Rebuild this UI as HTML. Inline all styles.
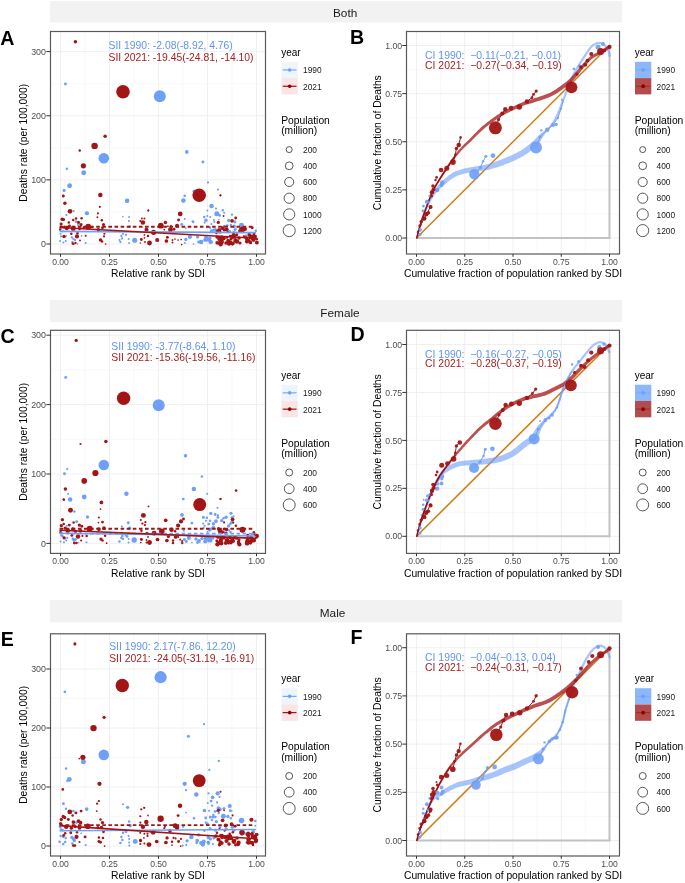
<!DOCTYPE html><html><head><meta charset="utf-8"><style>html,body{margin:0;padding:0;background:#fff;width:685px;height:883px;overflow:hidden}</style></head><body><svg width="685" height="883" viewBox="0 0 685 883" style="position:absolute;left:0;top:0;will-change:transform;font-family:'Liberation Sans', sans-serif">
<rect x="0" y="0" width="685" height="883" fill="#fff" />
<rect x="49.9" y="1.2" width="572.3" height="21.3" fill="#f2f2f2" />
<text x="333" y="16.6" font-size="11.8" fill="#1a1a1a" text-anchor="start" font-weight="normal" >Both</text>
<text x="0.2" y="45" font-size="19.6" fill="#000" text-anchor="start" font-weight="bold" >A</text>
<text x="350" y="44.4" font-size="19.6" fill="#000" text-anchor="start" font-weight="bold" >B</text>
<rect x="50.5" y="31.5" width="215" height="222.5" fill="#fff" />
<line x1="85" y1="31.5" x2="85" y2="254" stroke="#f4f4f4" stroke-width="0.6" />
<line x1="134" y1="31.5" x2="134" y2="254" stroke="#f4f4f4" stroke-width="0.6" />
<line x1="183" y1="31.5" x2="183" y2="254" stroke="#f4f4f4" stroke-width="0.6" />
<line x1="232" y1="31.5" x2="232" y2="254" stroke="#f4f4f4" stroke-width="0.6" />
<line x1="50.5" y1="211.94" x2="265.5" y2="211.94" stroke="#f4f4f4" stroke-width="0.6" />
<line x1="50.5" y1="147.81" x2="265.5" y2="147.81" stroke="#f4f4f4" stroke-width="0.6" />
<line x1="50.5" y1="83.68" x2="265.5" y2="83.68" stroke="#f4f4f4" stroke-width="0.6" />
<line x1="60.5" y1="31.5" x2="60.5" y2="254" stroke="#ececec" stroke-width="0.8" />
<line x1="109.5" y1="31.5" x2="109.5" y2="254" stroke="#ececec" stroke-width="0.8" />
<line x1="158.5" y1="31.5" x2="158.5" y2="254" stroke="#ececec" stroke-width="0.8" />
<line x1="207.5" y1="31.5" x2="207.5" y2="254" stroke="#ececec" stroke-width="0.8" />
<line x1="256.5" y1="31.5" x2="256.5" y2="254" stroke="#ececec" stroke-width="0.8" />
<line x1="50.5" y1="244" x2="265.5" y2="244" stroke="#ececec" stroke-width="0.8" />
<line x1="50.5" y1="179.87" x2="265.5" y2="179.87" stroke="#ececec" stroke-width="0.8" />
<line x1="50.5" y1="115.74" x2="265.5" y2="115.74" stroke="#ececec" stroke-width="0.8" />
<line x1="50.5" y1="51.61" x2="265.5" y2="51.61" stroke="#ececec" stroke-width="0.8" />
<circle cx="65.4" cy="84" r="1.45" fill="#6e9ff9"/>
<circle cx="159.8" cy="96.2" r="6" fill="#6e9ff9"/>
<circle cx="103.8" cy="158.3" r="5.3" fill="#6e9ff9"/>
<circle cx="83.7" cy="172.7" r="2.45" fill="#6e9ff9"/>
<circle cx="66.9" cy="168.7" r="1.25" fill="#6e9ff9"/>
<circle cx="69.6" cy="185.7" r="2.45" fill="#6e9ff9"/>
<circle cx="64.1" cy="190.4" r="1.55" fill="#6e9ff9"/>
<circle cx="127.1" cy="200.8" r="2.25" fill="#6e9ff9"/>
<circle cx="86.9" cy="213.2" r="2.05" fill="#6e9ff9"/>
<circle cx="186.8" cy="151.9" r="1.85" fill="#6e9ff9"/>
<circle cx="202.9" cy="162" r="1.45" fill="#6e9ff9"/>
<circle cx="208" cy="182.4" r="1.05" fill="#6e9ff9"/>
<circle cx="218" cy="189.6" r="1.05" fill="#6e9ff9"/>
<circle cx="194.3" cy="191.2" r="1.75" fill="#6e9ff9"/>
<circle cx="184.7" cy="195.7" r="1.25" fill="#6e9ff9"/>
<circle cx="183.4" cy="200.4" r="2.25" fill="#6e9ff9"/>
<circle cx="211.5" cy="206.1" r="2.25" fill="#6e9ff9"/>
<circle cx="216.8" cy="213.7" r="2.5" fill="#6e9ff9"/>
<circle cx="73.7" cy="211" r="1.05" fill="#6e9ff9"/>
<circle cx="66.4" cy="214.9" r="1.05" fill="#6e9ff9"/>
<circle cx="87" cy="213.2" r="1.75" fill="#6e9ff9"/>
<circle cx="76" cy="221.6" r="1.45" fill="#6e9ff9"/>
<circle cx="78" cy="225.1" r="1.05" fill="#6e9ff9"/>
<circle cx="60.6" cy="228.7" r="1.25" fill="#6e9ff9"/>
<circle cx="62.7" cy="231.3" r="1.15" fill="#6e9ff9"/>
<circle cx="60.6" cy="233.8" r="1.05" fill="#6e9ff9"/>
<circle cx="61.1" cy="236.4" r="1.05" fill="#6e9ff9"/>
<circle cx="60.1" cy="241" r="1.05" fill="#6e9ff9"/>
<circle cx="63.4" cy="242.5" r="1.05" fill="#6e9ff9"/>
<circle cx="65.7" cy="241" r="1.05" fill="#6e9ff9"/>
<circle cx="66.2" cy="235.9" r="0.85" fill="#6e9ff9"/>
<circle cx="71.9" cy="237.4" r="1.15" fill="#6e9ff9"/>
<circle cx="73.4" cy="238.9" r="1.15" fill="#6e9ff9"/>
<circle cx="75" cy="240" r="1.15" fill="#6e9ff9"/>
<circle cx="72.4" cy="242" r="1.15" fill="#6e9ff9"/>
<circle cx="81.6" cy="235.9" r="0.85" fill="#6e9ff9"/>
<circle cx="85.7" cy="243" r="1.05" fill="#6e9ff9"/>
<circle cx="77.5" cy="243.8" r="0.85" fill="#6e9ff9"/>
<circle cx="122.8" cy="216.5" r="0.85" fill="#6e9ff9"/>
<circle cx="121.4" cy="235.9" r="1.15" fill="#6e9ff9"/>
<circle cx="120.4" cy="242" r="1.15" fill="#6e9ff9"/>
<circle cx="122" cy="238.5" r="1.15" fill="#6e9ff9"/>
<circle cx="123" cy="234" r="1.05" fill="#6e9ff9"/>
<circle cx="119.5" cy="240" r="1.05" fill="#6e9ff9"/>
<circle cx="127" cy="200.9" r="1.75" fill="#6e9ff9"/>
<circle cx="129.1" cy="217" r="0.95" fill="#6e9ff9"/>
<circle cx="128.9" cy="221.1" r="1.05" fill="#6e9ff9"/>
<circle cx="129.6" cy="226.7" r="1.45" fill="#6e9ff9"/>
<circle cx="126" cy="234.9" r="1.05" fill="#6e9ff9"/>
<circle cx="128.6" cy="239" r="1.05" fill="#6e9ff9"/>
<circle cx="129.1" cy="243" r="0.95" fill="#6e9ff9"/>
<circle cx="134.7" cy="240.3" r="2.55" fill="#6e9ff9"/>
<circle cx="183.2" cy="200.6" r="1.75" fill="#6e9ff9"/>
<circle cx="184.6" cy="195.8" r="0.85" fill="#6e9ff9"/>
<circle cx="184.8" cy="219" r="1.05" fill="#6e9ff9"/>
<circle cx="193" cy="221.8" r="1.45" fill="#6e9ff9"/>
<circle cx="181.7" cy="224.4" r="1.45" fill="#6e9ff9"/>
<circle cx="185.8" cy="228.2" r="0.85" fill="#6e9ff9"/>
<circle cx="189.9" cy="236.9" r="2.05" fill="#6e9ff9"/>
<circle cx="185.8" cy="239.5" r="1.65" fill="#6e9ff9"/>
<circle cx="184.8" cy="243" r="1.05" fill="#6e9ff9"/>
<circle cx="193.5" cy="244" r="0.85" fill="#6e9ff9"/>
<circle cx="211.6" cy="206.2" r="1.65" fill="#6e9ff9"/>
<circle cx="216" cy="208.6" r="1.05" fill="#6e9ff9"/>
<circle cx="207.3" cy="210.5" r="1.05" fill="#6e9ff9"/>
<circle cx="217" cy="213.9" r="1.95" fill="#6e9ff9"/>
<circle cx="204.2" cy="217" r="1.25" fill="#6e9ff9"/>
<circle cx="207.3" cy="216" r="1.05" fill="#6e9ff9"/>
<circle cx="210.3" cy="217" r="1.05" fill="#6e9ff9"/>
<circle cx="213.9" cy="220" r="1.05" fill="#6e9ff9"/>
<circle cx="214.4" cy="222" r="1.05" fill="#6e9ff9"/>
<circle cx="204.7" cy="222.6" r="1.05" fill="#6e9ff9"/>
<circle cx="211.4" cy="224.1" r="1.05" fill="#6e9ff9"/>
<circle cx="219" cy="219.5" r="0.85" fill="#6e9ff9"/>
<circle cx="228.7" cy="220.5" r="1.65" fill="#6e9ff9"/>
<circle cx="241.5" cy="225.1" r="2.45" fill="#6e9ff9"/>
<circle cx="230.8" cy="225.1" r="1.25" fill="#6e9ff9"/>
<circle cx="227.2" cy="225.7" r="1.45" fill="#6e9ff9"/>
<circle cx="215.4" cy="229.7" r="1.65" fill="#6e9ff9"/>
<circle cx="210.3" cy="227.7" r="1.05" fill="#6e9ff9"/>
<circle cx="197.6" cy="236.9" r="1.65" fill="#6e9ff9"/>
<circle cx="201.1" cy="242" r="2.25" fill="#6e9ff9"/>
<circle cx="204.7" cy="240" r="1.65" fill="#6e9ff9"/>
<circle cx="207.3" cy="238.9" r="1.65" fill="#6e9ff9"/>
<circle cx="209.3" cy="240" r="1.65" fill="#6e9ff9"/>
<circle cx="198.6" cy="242" r="1.45" fill="#6e9ff9"/>
<circle cx="211.9" cy="242.5" r="1.05" fill="#6e9ff9"/>
<circle cx="229.7" cy="231.3" r="1.25" fill="#6e9ff9"/>
<circle cx="233.8" cy="232.3" r="1.25" fill="#6e9ff9"/>
<circle cx="246.1" cy="235.9" r="1.45" fill="#6e9ff9"/>
<circle cx="255.8" cy="230.8" r="1.25" fill="#6e9ff9"/>
<circle cx="206.42" cy="237.62" r="1.73" fill="#6e9ff9"/>
<circle cx="205.93" cy="237.4" r="1.73" fill="#6e9ff9"/>
<circle cx="210.51" cy="241.8" r="1.99" fill="#6e9ff9"/>
<circle cx="206.33" cy="240.22" r="1.64" fill="#6e9ff9"/>
<circle cx="206.04" cy="237.64" r="1.6" fill="#6e9ff9"/>
<circle cx="210.56" cy="241.97" r="2.01" fill="#6e9ff9"/>
<circle cx="209.8" cy="238.16" r="1.67" fill="#6e9ff9"/>
<circle cx="224.31" cy="226.32" r="1.61" fill="#6e9ff9"/>
<circle cx="234.22" cy="226.28" r="1.7" fill="#6e9ff9"/>
<circle cx="205.9" cy="220.24" r="1.71" fill="#6e9ff9"/>
<circle cx="225.12" cy="229.82" r="1.13" fill="#6e9ff9"/>
<circle cx="219.54" cy="215.42" r="1.43" fill="#6e9ff9"/>
<circle cx="222.79" cy="210.29" r="1.2" fill="#6e9ff9"/>
<circle cx="213.66" cy="230.16" r="1.59" fill="#6e9ff9"/>
<circle cx="209.95" cy="227.54" r="1.15" fill="#6e9ff9"/>
<circle cx="224.14" cy="212.79" r="1.05" fill="#6e9ff9"/>
<circle cx="232.01" cy="214.61" r="1.2" fill="#6e9ff9"/>
<circle cx="235.46" cy="229.19" r="1.25" fill="#6e9ff9"/>
<circle cx="234.81" cy="221.86" r="1.52" fill="#6e9ff9"/>
<circle cx="211.35" cy="230.7" r="1.53" fill="#6e9ff9"/>
<circle cx="234.96" cy="229.66" r="1.26" fill="#6e9ff9"/>
<circle cx="75.4" cy="41.7" r="1.75" fill="#a31515"/>
<circle cx="123" cy="91.8" r="6.8" fill="#a31515"/>
<circle cx="105.1" cy="136.3" r="1.75" fill="#a31515"/>
<circle cx="94.6" cy="145.9" r="3.2" fill="#a31515"/>
<circle cx="79.7" cy="150.6" r="1.25" fill="#a31515"/>
<circle cx="83.4" cy="165.8" r="2.6" fill="#a31515"/>
<circle cx="63.3" cy="196" r="1.45" fill="#a31515"/>
<circle cx="100.3" cy="194.9" r="2.25" fill="#a31515"/>
<circle cx="99.8" cy="206.8" r="0.95" fill="#a31515"/>
<circle cx="148.3" cy="210.5" r="0.95" fill="#a31515"/>
<circle cx="199.2" cy="195.2" r="6.7" fill="#a31515"/>
<circle cx="220.4" cy="195.2" r="1.05" fill="#a31515"/>
<circle cx="180.2" cy="213.9" r="2.35" fill="#a31515"/>
<circle cx="63.4" cy="196.2" r="1.05" fill="#a31515"/>
<circle cx="64.9" cy="203.2" r="1.75" fill="#a31515"/>
<circle cx="70" cy="211.3" r="2.35" fill="#a31515"/>
<circle cx="62.2" cy="219.2" r="1.75" fill="#a31515"/>
<circle cx="63.5" cy="219.5" r="1.55" fill="#a31515"/>
<circle cx="73.2" cy="220" r="1.25" fill="#a31515"/>
<circle cx="76" cy="218.5" r="1.25" fill="#a31515"/>
<circle cx="81.6" cy="218.3" r="1.25" fill="#a31515"/>
<circle cx="68.8" cy="222.6" r="1.25" fill="#a31515"/>
<circle cx="78.5" cy="222.4" r="1.55" fill="#a31515"/>
<circle cx="81" cy="224.6" r="1.55" fill="#a31515"/>
<circle cx="61.1" cy="224.1" r="1.55" fill="#a31515"/>
<circle cx="66.8" cy="228.2" r="2.05" fill="#a31515"/>
<circle cx="73.2" cy="228.2" r="2.55" fill="#a31515"/>
<circle cx="88.2" cy="226.7" r="2.9" fill="#a31515"/>
<circle cx="79.5" cy="228.7" r="1.45" fill="#a31515"/>
<circle cx="99.7" cy="206.8" r="0.85" fill="#a31515"/>
<circle cx="97.9" cy="213.4" r="1.05" fill="#a31515"/>
<circle cx="97.4" cy="217.3" r="0.95" fill="#a31515"/>
<circle cx="101.8" cy="220.3" r="1.25" fill="#a31515"/>
<circle cx="103.5" cy="224.6" r="1.55" fill="#a31515"/>
<circle cx="102.5" cy="227.7" r="1.45" fill="#a31515"/>
<circle cx="98.4" cy="229.7" r="1.75" fill="#a31515"/>
<circle cx="64" cy="236.4" r="1.75" fill="#a31515"/>
<circle cx="71.3" cy="233.8" r="1.25" fill="#a31515"/>
<circle cx="77" cy="236.4" r="2.05" fill="#a31515"/>
<circle cx="77.5" cy="233.3" r="1.25" fill="#a31515"/>
<circle cx="85.7" cy="235.7" r="1.05" fill="#a31515"/>
<circle cx="80" cy="240.5" r="0.95" fill="#a31515"/>
<circle cx="73.4" cy="243.8" r="1.25" fill="#a31515"/>
<circle cx="100.5" cy="240" r="1.75" fill="#a31515"/>
<circle cx="102" cy="241.5" r="1.25" fill="#a31515"/>
<circle cx="104.4" cy="233.8" r="1.05" fill="#a31515"/>
<circle cx="104" cy="236.4" r="1.05" fill="#a31515"/>
<circle cx="105.6" cy="244" r="0.85" fill="#a31515"/>
<circle cx="60.1" cy="229.7" r="1.15" fill="#a31515"/>
<circle cx="64.5" cy="227" r="1.55" fill="#a31515"/>
<circle cx="69.5" cy="226" r="1.45" fill="#a31515"/>
<circle cx="84" cy="227.5" r="1.45" fill="#a31515"/>
<circle cx="92" cy="227" r="1.25" fill="#a31515"/>
<circle cx="75.5" cy="243" r="1.15" fill="#a31515"/>
<circle cx="72.5" cy="243.5" r="1.05" fill="#a31515"/>
<circle cx="148.3" cy="210.5" r="0.95" fill="#a31515"/>
<circle cx="178.6" cy="220" r="1.45" fill="#a31515"/>
<circle cx="165.4" cy="222.6" r="1.75" fill="#a31515"/>
<circle cx="160.8" cy="225.7" r="2.9" fill="#a31515"/>
<circle cx="142.9" cy="222.6" r="2.25" fill="#a31515"/>
<circle cx="141.9" cy="218.5" r="0.95" fill="#a31515"/>
<circle cx="144.4" cy="218.5" r="0.95" fill="#a31515"/>
<circle cx="140.3" cy="221.1" r="1.05" fill="#a31515"/>
<circle cx="146.5" cy="229.7" r="2.05" fill="#a31515"/>
<circle cx="153.6" cy="232.3" r="2.6" fill="#a31515"/>
<circle cx="177.1" cy="225.7" r="2.05" fill="#a31515"/>
<circle cx="170.5" cy="229.7" r="2.45" fill="#a31515"/>
<circle cx="174" cy="229.2" r="1.45" fill="#a31515"/>
<circle cx="141.3" cy="239.5" r="1.45" fill="#a31515"/>
<circle cx="149.5" cy="243" r="2.45" fill="#a31515"/>
<circle cx="157.2" cy="240" r="2.05" fill="#a31515"/>
<circle cx="166.4" cy="241" r="1.85" fill="#a31515"/>
<circle cx="167.4" cy="237.4" r="1.45" fill="#a31515"/>
<circle cx="148" cy="235.9" r="1.25" fill="#a31515"/>
<circle cx="144.4" cy="234.9" r="0.85" fill="#a31515"/>
<circle cx="144.4" cy="237.9" r="0.85" fill="#a31515"/>
<circle cx="145" cy="242" r="0.95" fill="#a31515"/>
<circle cx="140.3" cy="243" r="0.75" fill="#a31515"/>
<circle cx="172.5" cy="240" r="0.95" fill="#a31515"/>
<circle cx="172.5" cy="242.5" r="0.95" fill="#a31515"/>
<circle cx="175" cy="239" r="0.85" fill="#a31515"/>
<circle cx="178.1" cy="240" r="0.85" fill="#a31515"/>
<circle cx="181.2" cy="239.5" r="0.85" fill="#a31515"/>
<circle cx="181.7" cy="244.6" r="0.85" fill="#a31515"/>
<circle cx="164.3" cy="229.7" r="0.85" fill="#a31515"/>
<circle cx="167.9" cy="226.2" r="0.85" fill="#a31515"/>
<circle cx="171" cy="225.7" r="0.85" fill="#a31515"/>
<circle cx="220.5" cy="195.5" r="0.95" fill="#a31515"/>
<circle cx="223.6" cy="216" r="0.95" fill="#a31515"/>
<circle cx="235.7" cy="218" r="1.45" fill="#a31515"/>
<circle cx="232" cy="220.8" r="1.85" fill="#a31515"/>
<circle cx="218.3" cy="222.4" r="1.65" fill="#a31515"/>
<circle cx="222.6" cy="228.2" r="1.85" fill="#a31515"/>
<circle cx="225.7" cy="229.7" r="1.65" fill="#a31515"/>
<circle cx="219.5" cy="230.8" r="1.45" fill="#a31515"/>
<circle cx="242" cy="229.7" r="2.9" fill="#a31515"/>
<circle cx="252.2" cy="227.7" r="1.45" fill="#a31515"/>
<circle cx="228.7" cy="241.5" r="2.25" fill="#a31515"/>
<circle cx="236.9" cy="241.5" r="2.25" fill="#a31515"/>
<circle cx="221.6" cy="241.5" r="2.05" fill="#a31515"/>
<circle cx="251.2" cy="236.9" r="2.25" fill="#a31515"/>
<circle cx="248.1" cy="240.5" r="2.05" fill="#a31515"/>
<circle cx="255.3" cy="236.4" r="1.65" fill="#a31515"/>
<circle cx="250.7" cy="243" r="1.25" fill="#a31515"/>
<circle cx="217" cy="237" r="1.75" fill="#a31515"/>
<circle cx="219" cy="239.5" r="1.55" fill="#a31515"/>
<circle cx="224" cy="238.5" r="1.75" fill="#a31515"/>
<circle cx="226" cy="243" r="1.75" fill="#a31515"/>
<circle cx="231" cy="239" r="1.55" fill="#a31515"/>
<circle cx="233" cy="243.5" r="1.65" fill="#a31515"/>
<circle cx="239" cy="238" r="1.75" fill="#a31515"/>
<circle cx="240" cy="243" r="1.55" fill="#a31515"/>
<circle cx="244" cy="236.5" r="1.25" fill="#a31515"/>
<circle cx="246.5" cy="238" r="1.75" fill="#a31515"/>
<circle cx="253.5" cy="240" r="1.85" fill="#a31515"/>
<circle cx="256.5" cy="239" r="1.55" fill="#a31515"/>
<circle cx="254" cy="234" r="1.45" fill="#a31515"/>
<circle cx="249" cy="234.5" r="1.45" fill="#a31515"/>
<circle cx="245" cy="229" r="2.05" fill="#a31515"/>
<circle cx="239.5" cy="231" r="1.45" fill="#a31515"/>
<circle cx="227.5" cy="232" r="1.25" fill="#a31515"/>
<circle cx="216.5" cy="233" r="1.25" fill="#a31515"/>
<circle cx="230" cy="236" r="1.25" fill="#a31515"/>
<circle cx="235" cy="236" r="1.25" fill="#a31515"/>
<circle cx="219.52" cy="242.97" r="2.06" fill="#a31515"/>
<circle cx="222.24" cy="239.45" r="1.81" fill="#a31515"/>
<circle cx="231.16" cy="242.39" r="1.53" fill="#a31515"/>
<circle cx="217.14" cy="242.86" r="1.8" fill="#a31515"/>
<circle cx="233.65" cy="234.52" r="1.81" fill="#a31515"/>
<circle cx="232.73" cy="236.79" r="2.21" fill="#a31515"/>
<circle cx="236.78" cy="234.81" r="1.47" fill="#a31515"/>
<circle cx="228.68" cy="243.89" r="1.75" fill="#a31515"/>
<circle cx="221.37" cy="238.72" r="1.47" fill="#a31515"/>
<circle cx="221.49" cy="238.88" r="1.85" fill="#a31515"/>
<circle cx="221.74" cy="236.81" r="1.63" fill="#a31515"/>
<circle cx="226.84" cy="237.4" r="1.47" fill="#a31515"/>
<circle cx="235.35" cy="240.06" r="1.96" fill="#a31515"/>
<circle cx="220.68" cy="244.43" r="2.14" fill="#a31515"/>
<circle cx="219.22" cy="237.83" r="2.03" fill="#a31515"/>
<circle cx="232.5" cy="243.86" r="1.79" fill="#a31515"/>
<circle cx="235.18" cy="241.2" r="1.69" fill="#a31515"/>
<circle cx="229.72" cy="243.32" r="2.13" fill="#a31515"/>
<circle cx="227.87" cy="240.39" r="1.48" fill="#a31515"/>
<circle cx="221.96" cy="242.47" r="1.78" fill="#a31515"/>
<circle cx="256.52" cy="242.53" r="1.5" fill="#a31515"/>
<circle cx="246.93" cy="241.52" r="2.04" fill="#a31515"/>
<circle cx="253.37" cy="236.77" r="1.93" fill="#a31515"/>
<circle cx="252.67" cy="239.23" r="1.58" fill="#a31515"/>
<circle cx="250.74" cy="237.54" r="2.03" fill="#a31515"/>
<circle cx="256.94" cy="242.54" r="1.89" fill="#a31515"/>
<circle cx="250.89" cy="236.41" r="1.48" fill="#a31515"/>
<circle cx="246.3" cy="238.18" r="1.7" fill="#a31515"/>
<circle cx="250.18" cy="242.03" r="1.87" fill="#a31515"/>
<circle cx="252.17" cy="236.13" r="1.47" fill="#a31515"/>
<circle cx="249.58" cy="235.23" r="1.86" fill="#a31515"/>
<circle cx="219.86" cy="229.72" r="1.57" fill="#a31515"/>
<circle cx="224.25" cy="230.13" r="1.39" fill="#a31515"/>
<circle cx="217.16" cy="231.19" r="1.51" fill="#a31515"/>
<circle cx="219.81" cy="231.98" r="1.63" fill="#a31515"/>
<circle cx="227.04" cy="229.38" r="1.73" fill="#a31515"/>
<circle cx="218.81" cy="230.17" r="1.87" fill="#a31515"/>
<line x1="59.6" y1="226.7" x2="254.5" y2="226.7" stroke="#a31515" stroke-width="1.9" stroke-dasharray="3.6 2.5"/>
<line x1="59.6" y1="231.4" x2="256" y2="232.6" stroke="#6e9ff9" stroke-width="1.6"/>
<line x1="59.6" y1="227.5" x2="256.3" y2="238.2" stroke="#a31515" stroke-width="1.6"/>
<rect x="50.5" y="31.5" width="215.0" height="222.5" fill="none" stroke="#595959" stroke-width="1.2"/>
<line x1="46.3" y1="244" x2="50.5" y2="244" stroke="#333" stroke-width="1.0" />
<text x="46" y="247.1" font-size="8.9" fill="#4d4d4d" text-anchor="end" font-weight="normal" >0</text>
<line x1="46.3" y1="179.87" x2="50.5" y2="179.87" stroke="#333" stroke-width="1.0" />
<text x="46" y="182.97" font-size="8.9" fill="#4d4d4d" text-anchor="end" font-weight="normal" >100</text>
<line x1="46.3" y1="115.74" x2="50.5" y2="115.74" stroke="#333" stroke-width="1.0" />
<text x="46" y="118.84" font-size="8.9" fill="#4d4d4d" text-anchor="end" font-weight="normal" >200</text>
<line x1="46.3" y1="51.61" x2="50.5" y2="51.61" stroke="#333" stroke-width="1.0" />
<text x="46" y="54.71" font-size="8.9" fill="#4d4d4d" text-anchor="end" font-weight="normal" >300</text>
<line x1="60.5" y1="254" x2="60.5" y2="256.8" stroke="#333" stroke-width="1.0" />
<text x="60.5" y="265" font-size="8.6" fill="#4d4d4d" text-anchor="middle" font-weight="normal" >0.00</text>
<line x1="109.5" y1="254" x2="109.5" y2="256.8" stroke="#333" stroke-width="1.0" />
<text x="109.5" y="265" font-size="8.6" fill="#4d4d4d" text-anchor="middle" font-weight="normal" >0.25</text>
<line x1="158.5" y1="254" x2="158.5" y2="256.8" stroke="#333" stroke-width="1.0" />
<text x="158.5" y="265" font-size="8.6" fill="#4d4d4d" text-anchor="middle" font-weight="normal" >0.50</text>
<line x1="207.5" y1="254" x2="207.5" y2="256.8" stroke="#333" stroke-width="1.0" />
<text x="207.5" y="265" font-size="8.6" fill="#4d4d4d" text-anchor="middle" font-weight="normal" >0.75</text>
<line x1="256.5" y1="254" x2="256.5" y2="256.8" stroke="#333" stroke-width="1.0" />
<text x="256.5" y="265" font-size="8.6" fill="#4d4d4d" text-anchor="middle" font-weight="normal" >1.00</text>
<text x="158" y="277.2" font-size="10.3" fill="#000" text-anchor="middle" font-weight="normal" >Relative rank by SDI</text>
<text x="27.3" y="142.75" font-size="10.3" fill="#000" text-anchor="middle" transform="rotate(-90 27.3 142.75)">Deaths rate (per 100,000)</text>
<text x="108.6" y="49" font-size="10.35" fill="#5f93f2" text-anchor="start" font-weight="normal" >SII 1990: -2.08(-8.92, 4.76)</text>
<text x="108.6" y="60.5" font-size="10.35" fill="#a51e1e" text-anchor="start" font-weight="normal" >SII 2021: -19.45(-24.81, -14.10)</text>
<rect x="406.5" y="31.5" width="213" height="222.5" fill="#fff" />
<line x1="440.62" y1="31.5" x2="440.62" y2="254" stroke="#f4f4f4" stroke-width="0.6" />
<line x1="406.5" y1="213.94" x2="619.5" y2="213.94" stroke="#f4f4f4" stroke-width="0.6" />
<line x1="488.88" y1="31.5" x2="488.88" y2="254" stroke="#f4f4f4" stroke-width="0.6" />
<line x1="406.5" y1="165.81" x2="619.5" y2="165.81" stroke="#f4f4f4" stroke-width="0.6" />
<line x1="537.12" y1="31.5" x2="537.12" y2="254" stroke="#f4f4f4" stroke-width="0.6" />
<line x1="406.5" y1="117.69" x2="619.5" y2="117.69" stroke="#f4f4f4" stroke-width="0.6" />
<line x1="585.38" y1="31.5" x2="585.38" y2="254" stroke="#f4f4f4" stroke-width="0.6" />
<line x1="406.5" y1="69.56" x2="619.5" y2="69.56" stroke="#f4f4f4" stroke-width="0.6" />
<line x1="416.5" y1="31.5" x2="416.5" y2="254" stroke="#ececec" stroke-width="0.8" />
<line x1="406.5" y1="238" x2="619.5" y2="238" stroke="#ececec" stroke-width="0.8" />
<line x1="464.75" y1="31.5" x2="464.75" y2="254" stroke="#ececec" stroke-width="0.8" />
<line x1="406.5" y1="189.88" x2="619.5" y2="189.88" stroke="#ececec" stroke-width="0.8" />
<line x1="513" y1="31.5" x2="513" y2="254" stroke="#ececec" stroke-width="0.8" />
<line x1="406.5" y1="141.75" x2="619.5" y2="141.75" stroke="#ececec" stroke-width="0.8" />
<line x1="561.25" y1="31.5" x2="561.25" y2="254" stroke="#ececec" stroke-width="0.8" />
<line x1="406.5" y1="93.62" x2="619.5" y2="93.62" stroke="#ececec" stroke-width="0.8" />
<line x1="609.5" y1="31.5" x2="609.5" y2="254" stroke="#ececec" stroke-width="0.8" />
<line x1="406.5" y1="45.5" x2="619.5" y2="45.5" stroke="#ececec" stroke-width="0.8" />
<polyline points="416.5,238 609.5,238 609.5,45.5" fill="none" stroke="#c2c2c2" stroke-width="2.0"/>
<line x1="416.5" y1="238" x2="609.5" y2="45.5" stroke="#d47a14" stroke-width="1.55" />
<path d="M417.4,238.7 L417.8,237.3 L418.2,235.8 L418.6,234.4 L419.0,232.9 L419.4,231.5 L419.9,230.1 L420.3,228.6 L420.7,227.2 L421.2,225.8 L421.6,224.4 L422.1,222.9 L422.6,221.5 L423.0,220.1 L423.5,218.7 L424.1,217.3 L424.6,215.9 L425.1,214.5 L425.7,213.1 L426.2,211.7 L426.8,210.4 L427.3,209.0 L427.9,207.6 L428.5,206.2 L429.1,204.9 L429.7,203.5 L430.4,202.2 L431.0,200.9 L431.7,199.6 L432.5,198.3 L433.2,197.1 L434.0,195.9 L434.9,194.7 L435.7,193.6 L436.6,192.4 L437.6,191.3 L438.6,190.3 L439.6,189.2 L440.6,188.2 L441.7,187.2 L442.8,186.2 L443.9,185.2 L445.0,184.2 L446.1,183.2 L447.3,182.4 L448.4,181.5 L449.5,180.5 L450.7,179.7 L451.8,178.9 L453.0,178.1 L454.2,177.4 L455.4,176.7 L456.7,176.2 L457.9,175.6 L459.3,175.1 L460.6,174.7 L462.0,174.3 L463.4,173.9 L464.8,173.6 L466.2,173.3 L467.6,173.0 L469.0,172.7 L470.5,172.5 L471.9,172.3 L473.4,172.1 L474.9,171.9 L476.4,171.7 L477.9,171.5 L479.4,171.3 L480.9,171.1 L482.4,170.8 L483.9,170.6 L485.4,170.3 L486.9,170.0 L488.4,169.7 L490.0,169.4 L491.5,169.0 L493.0,168.6 L494.4,168.1 L495.9,167.7 L497.4,167.2 L498.8,166.7 L500.3,166.2 L501.7,165.7 L503.1,165.2 L504.6,164.6 L506.0,164.1 L507.4,163.5 L508.8,162.9 L510.2,162.4 L511.6,161.8 L513.0,161.2 L514.4,160.5 L515.8,159.9 L517.2,159.3 L518.6,158.6 L519.9,157.9 L521.3,157.1 L522.7,156.4 L524.0,155.6 L525.4,154.7 L526.7,153.9 L528.0,152.9 L529.2,152.0 L530.4,151.1 L531.6,150.1 L532.8,149.2 L534.0,148.3 L535.2,147.4 L536.5,146.3 L537.7,145.1 L538.8,143.8 L539.6,142.4 L540.4,141.1 L541.1,139.8 L541.8,138.6 L542.6,137.4 L543.4,136.2 L544.3,135.0 L545.2,133.8 L546.1,132.6 L547.1,131.5 L548.1,130.4 L549.2,129.3 L550.3,128.2 L551.3,127.1 L552.3,125.9 L553.2,124.7 L554.1,123.4 L554.9,122.1 L555.7,120.8 L556.4,119.5 L557.1,118.1 L557.8,116.7 L558.4,115.3 L559.0,113.9 L559.6,112.6 L560.2,111.2 L560.7,109.8 L561.3,108.4 L561.8,106.9 L562.3,105.5 L562.9,104.1 L563.4,102.7 L563.9,101.3 L564.5,99.9 L565.0,98.5 L565.5,97.1 L566.1,95.7 L566.6,94.3 L567.1,92.9 L567.7,91.5 L568.2,90.1 L568.7,88.7 L569.3,87.3 L569.8,85.9 L570.4,84.5 L570.9,83.2 L571.5,81.8 L572.0,80.4 L572.6,79.0 L573.2,77.7 L573.9,76.4 L574.5,75.0 L575.2,73.7 L575.9,72.4 L576.7,71.1 L577.4,69.8 L578.2,68.5 L578.9,67.3 L579.7,66.0 L580.5,64.7 L581.2,63.4 L582.0,62.2 L582.8,60.9 L583.7,59.7 L584.5,58.4 L585.3,57.1 L586.1,55.9 L586.9,54.6 L587.8,53.4 L588.6,52.2 L589.4,50.9 L590.3,49.8 L591.2,48.6 L592.1,47.6 L593.2,46.6 L594.2,45.8 L595.4,45.0 L596.5,44.5 L597.7,44.1 L598.9,43.9 L600.1,44.0 L601.3,44.3 L602.4,44.9 L603.4,45.6 L604.4,46.5 L605.3,47.6 L606.1,48.7 L606.7,49.9 L607.3,51.2 L607.8,52.5 L608.1,53.8 L608.4,55.2 L608.7,56.6 L608.7,57.0 L610.9,56.8 L610.7,55.3 L610.4,53.8 L610.0,52.3 L609.5,50.8 L608.9,49.4 L608.2,48.0 L607.3,46.6 L606.3,45.4 L605.2,44.3 L603.9,43.3 L602.5,42.5 L601.0,42.0 L599.4,41.8 L597.8,41.9 L596.2,42.2 L594.8,42.9 L593.4,43.7 L592.1,44.6 L590.9,45.7 L589.9,46.8 L588.9,48.0 L587.9,49.2 L587.1,50.5 L586.2,51.8 L585.4,53.0 L584.5,54.3 L583.7,55.5 L582.9,56.8 L582.1,58.0 L581.3,59.3 L580.5,60.6 L579.6,61.8 L578.8,63.1 L578.1,64.4 L577.3,65.7 L576.5,67.0 L575.7,68.3 L575.0,69.6 L574.3,70.9 L573.5,72.2 L572.8,73.6 L572.1,74.9 L571.5,76.3 L570.8,77.7 L570.2,79.1 L569.6,80.5 L569.1,81.9 L568.5,83.3 L567.9,84.7 L567.4,86.1 L566.9,87.5 L566.3,88.9 L565.8,90.3 L565.3,91.7 L564.7,93.1 L564.2,94.5 L563.7,95.9 L563.1,97.3 L562.6,98.7 L562.1,100.1 L561.5,101.5 L561.0,102.9 L560.5,104.3 L559.9,105.7 L559.4,107.1 L558.8,108.5 L558.3,109.9 L557.7,111.2 L557.2,112.6 L556.6,114.0 L556.0,115.3 L555.3,116.7 L554.7,118.0 L554.0,119.3 L553.3,120.6 L552.5,121.8 L551.7,123.0 L550.9,124.2 L550.0,125.3 L549.0,126.4 L548.0,127.4 L546.9,128.5 L545.9,129.6 L544.8,130.6 L543.6,131.5 L542.3,132.4 L541.1,133.3 L539.9,134.3 L538.7,135.4 L537.6,136.5 L536.5,137.7 L535.5,138.8 L534.6,139.8 L533.7,140.7 L532.8,141.6 L531.8,142.4 L530.7,143.3 L529.5,144.2 L528.3,145.1 L527.1,146.0 L526.0,146.9 L524.8,147.8 L523.7,148.6 L522.5,149.4 L521.3,150.2 L520.1,150.9 L518.9,151.6 L517.6,152.3 L516.3,153.0 L515.0,153.6 L513.7,154.3 L512.4,154.9 L511.0,155.5 L509.7,156.1 L508.3,156.6 L506.9,157.2 L505.6,157.8 L504.2,158.3 L502.8,158.9 L501.4,159.4 L500.1,160.0 L498.7,160.5 L497.3,161.0 L495.9,161.5 L494.6,162.0 L493.2,162.5 L491.8,163.0 L490.4,163.4 L489.0,163.8 L487.6,164.2 L486.2,164.5 L484.8,164.8 L483.4,165.1 L482.0,165.4 L480.5,165.6 L479.0,165.9 L477.6,166.1 L476.1,166.4 L474.6,166.6 L473.1,166.9 L471.7,167.1 L470.2,167.4 L468.6,167.6 L467.1,167.9 L465.6,168.2 L464.1,168.6 L462.6,169.0 L461.1,169.4 L459.6,169.9 L458.1,170.4 L456.6,171.0 L455.2,171.6 L453.7,172.3 L452.3,173.0 L450.9,173.9 L449.6,174.8 L448.3,175.7 L447.1,176.7 L445.9,177.7 L444.7,178.7 L443.7,179.8 L442.6,180.9 L441.5,182.0 L440.4,183.1 L439.4,184.2 L438.3,185.3 L437.3,186.4 L436.3,187.6 L435.3,188.8 L434.4,190.0 L433.5,191.2 L432.6,192.5 L431.7,193.8 L430.9,195.1 L430.2,196.5 L429.4,197.8 L428.8,199.2 L428.1,200.6 L427.5,202.0 L426.9,203.4 L426.3,204.8 L425.8,206.2 L425.2,207.6 L424.7,209.0 L424.2,210.4 L423.6,211.8 L423.1,213.3 L422.6,214.7 L422.2,216.1 L421.7,217.5 L421.2,219.0 L420.8,220.4 L420.3,221.8 L419.9,223.3 L419.5,224.7 L419.0,226.2 L418.6,227.6 L418.2,229.1 L417.9,230.5 L417.5,232.0 L417.1,233.4 L416.7,234.9 L416.3,236.4 L416.0,237.8 L415.8,238.3Z" fill="#6e9ff9" fill-opacity="0.6"/>
<path d="M417.3,238.7 L417.7,237.2 L418.1,235.8 L418.4,234.3 L418.8,232.9 L419.2,231.4 L419.6,230.0 L420.0,228.6 L420.4,227.1 L420.8,225.7 L421.3,224.2 L421.7,222.8 L422.2,221.4 L422.6,220.0 L423.1,218.6 L423.6,217.2 L424.1,215.7 L424.6,214.3 L425.1,212.9 L425.7,211.5 L426.2,210.1 L426.7,208.7 L427.2,207.3 L427.8,205.9 L428.3,204.5 L428.8,203.1 L429.4,201.7 L429.9,200.3 L430.5,198.9 L431.0,197.5 L431.6,196.2 L432.1,194.8 L432.8,193.4 L433.4,192.1 L434.0,190.8 L434.7,189.5 L435.4,188.2 L436.2,186.9 L436.9,185.6 L437.7,184.3 L438.5,183.0 L439.3,181.8 L440.0,180.5 L440.8,179.2 L441.6,177.9 L442.4,176.7 L443.2,175.4 L444.1,174.2 L444.9,172.9 L445.7,171.7 L446.5,170.4 L447.3,169.2 L448.2,167.9 L449.0,166.7 L449.9,165.4 L450.7,164.2 L451.6,163.0 L452.4,161.8 L453.3,160.5 L454.2,159.3 L455.0,158.2 L455.9,157.0 L456.9,155.8 L457.8,154.7 L458.8,153.6 L459.7,152.4 L460.7,151.3 L461.7,150.2 L462.8,149.2 L463.8,148.1 L464.8,147.1 L465.9,146.0 L467.0,145.0 L468.1,144.0 L469.2,143.0 L470.3,141.9 L471.4,140.9 L472.5,139.8 L473.5,138.8 L474.6,137.7 L475.7,136.6 L476.7,135.6 L477.8,134.5 L478.8,133.5 L479.9,132.4 L481.0,131.4 L482.0,130.4 L483.2,129.4 L484.3,128.5 L485.4,127.5 L486.6,126.6 L487.7,125.7 L488.9,124.8 L490.1,123.9 L491.3,123.0 L492.5,122.2 L493.7,121.3 L494.9,120.4 L496.2,119.6 L497.4,118.8 L498.6,118.0 L499.9,117.2 L501.1,116.4 L502.4,115.6 L503.7,114.9 L505.0,114.2 L506.3,113.5 L507.6,112.9 L508.9,112.2 L510.3,111.6 L511.6,111.0 L513.0,110.4 L514.3,109.7 L515.7,109.1 L517.1,108.5 L518.4,107.9 L519.8,107.3 L521.2,106.7 L522.5,106.1 L523.9,105.6 L525.2,105.1 L526.6,104.6 L528.0,104.2 L529.4,103.8 L530.9,103.4 L532.3,103.0 L533.8,102.5 L535.2,102.1 L536.6,101.6 L538.1,101.1 L539.5,100.7 L540.9,100.2 L542.3,99.7 L543.8,99.2 L545.2,98.8 L546.7,98.3 L548.1,97.7 L549.5,97.1 L551.0,96.5 L552.4,95.8 L553.8,95.1 L555.1,94.3 L556.4,93.5 L557.7,92.7 L559.0,91.8 L560.2,90.9 L561.5,90.0 L562.7,89.2 L563.9,88.3 L565.1,87.4 L566.3,86.5 L567.5,85.6 L568.8,84.6 L570.0,83.7 L571.2,82.6 L572.3,81.5 L573.3,80.4 L574.4,79.2 L575.4,78.1 L576.3,76.9 L577.3,75.8 L578.3,74.6 L579.2,73.4 L580.2,72.3 L581.1,71.1 L582.0,69.9 L583.0,68.7 L583.9,67.6 L584.9,66.4 L585.8,65.3 L586.8,64.2 L587.8,63.1 L588.7,62.0 L589.7,61.0 L590.8,60.0 L591.8,59.1 L593.0,58.2 L594.1,57.5 L595.4,56.8 L596.7,56.1 L598.0,55.5 L599.3,54.8 L600.7,54.1 L602.1,53.3 L603.4,52.5 L604.7,51.7 L605.9,50.9 L607.2,50.0 L608.4,49.2 L609.6,48.4 L610.2,47.9 L608.6,45.5 L607.5,46.2 L606.3,47.0 L605.1,47.8 L603.9,48.7 L602.6,49.5 L601.4,50.2 L600.1,51.0 L598.9,51.7 L597.6,52.3 L596.2,53.0 L594.9,53.6 L593.5,54.4 L592.1,55.2 L590.8,56.1 L589.6,57.0 L588.4,58.1 L587.2,59.1 L586.1,60.2 L585.1,61.3 L584.1,62.4 L583.0,63.6 L582.0,64.7 L581.0,65.8 L580.1,67.0 L579.1,68.1 L578.1,69.3 L577.2,70.4 L576.2,71.6 L575.2,72.7 L574.2,73.8 L573.3,74.9 L572.3,76.0 L571.3,77.1 L570.3,78.2 L569.3,79.2 L568.2,80.1 L567.2,81.1 L566.0,82.0 L564.9,82.8 L563.7,83.7 L562.5,84.6 L561.2,85.5 L560.0,86.4 L558.8,87.3 L557.6,88.1 L556.4,88.9 L555.2,89.8 L554.0,90.5 L552.7,91.3 L551.5,92.0 L550.2,92.7 L548.9,93.3 L547.6,93.8 L546.3,94.3 L544.9,94.8 L543.5,95.3 L542.1,95.8 L540.7,96.3 L539.3,96.7 L537.8,97.2 L536.4,97.7 L535.0,98.1 L533.6,98.6 L532.2,99.0 L530.7,99.5 L529.3,99.9 L527.9,100.4 L526.4,100.8 L525.0,101.3 L523.5,101.8 L522.1,102.4 L520.7,103.0 L519.3,103.6 L517.9,104.3 L516.5,104.9 L515.2,105.5 L513.8,106.2 L512.4,106.8 L511.1,107.5 L509.7,108.1 L508.4,108.8 L507.0,109.5 L505.7,110.1 L504.3,110.9 L503.0,111.6 L501.6,112.4 L500.3,113.1 L499.0,114.0 L497.8,114.8 L496.5,115.6 L495.2,116.5 L494.0,117.3 L492.8,118.2 L491.5,119.1 L490.3,120.0 L489.1,120.9 L487.9,121.8 L486.7,122.8 L485.5,123.7 L484.4,124.7 L483.2,125.6 L482.0,126.6 L480.9,127.6 L479.8,128.7 L478.7,129.7 L477.6,130.8 L476.5,131.9 L475.5,132.9 L474.4,134.0 L473.4,135.1 L472.3,136.2 L471.3,137.3 L470.3,138.3 L469.2,139.4 L468.2,140.4 L467.1,141.5 L466.0,142.5 L464.9,143.5 L463.8,144.6 L462.8,145.7 L461.7,146.8 L460.7,147.9 L459.6,149.0 L458.6,150.1 L457.6,151.3 L456.7,152.4 L455.7,153.6 L454.8,154.8 L453.8,156.0 L452.9,157.2 L452.1,158.4 L451.2,159.7 L450.3,160.9 L449.5,162.2 L448.6,163.4 L447.8,164.7 L447.0,165.9 L446.2,167.2 L445.3,168.4 L444.5,169.7 L443.7,171.0 L442.9,172.2 L442.1,173.5 L441.3,174.8 L440.5,176.1 L439.7,177.3 L438.9,178.6 L438.2,179.9 L437.4,181.2 L436.6,182.5 L435.8,183.8 L435.1,185.1 L434.3,186.4 L433.6,187.7 L432.9,189.1 L432.2,190.4 L431.6,191.8 L431.0,193.2 L430.4,194.6 L429.8,196.0 L429.2,197.4 L428.7,198.8 L428.2,200.2 L427.6,201.6 L427.1,203.0 L426.6,204.4 L426.1,205.8 L425.6,207.2 L425.0,208.6 L424.5,210.0 L424.0,211.4 L423.5,212.9 L423.0,214.3 L422.5,215.7 L422.0,217.1 L421.5,218.5 L421.0,220.0 L420.6,221.4 L420.1,222.9 L419.7,224.3 L419.3,225.7 L418.9,227.2 L418.5,228.6 L418.1,230.1 L417.7,231.5 L417.3,233.0 L416.9,234.5 L416.6,235.9 L416.2,237.4 L415.9,238.3Z" fill="#a31515" fill-opacity="0.75"/>
<path d="M416.6,238.5 C417.38,235.67 419.57,226.97 421.3,221.5 C423.03,216.03 425.12,210.69 427,205.7 C428.88,200.71 430.53,195.9 432.6,191.56 C434.67,187.23 436.93,183.76 439.4,179.7 C441.87,175.64 444.75,171.17 447.4,167.2 C450.05,163.23 453.98,157.78 455.3,155.9" fill="none" stroke="#8b0000" stroke-width="1.2" stroke-opacity="0.8"/>
<polyline points="474.4,174.3 480.4,167.7 483.1,161.2 485.9,156.2" fill="none" stroke="#6e9ff9" stroke-width="1.0"/>
<polyline points="536,147.4 540,137 547.3,129.7 552.9,124.9 557.8,118.1 561,108.8 563.4,100" fill="none" stroke="#6e9ff9" stroke-width="1.0"/>
<polyline points="495.4,127.8 498.5,119.6 502.3,113.5 505.3,109.2" fill="none" stroke="#a31515" stroke-width="1.0"/>
<polyline points="526.9,101.5 531.9,97.7 533.5,94.4 536.2,91.1" fill="none" stroke="#a31515" stroke-width="1.0"/>
<polyline points="420.8,225 424.2,218.1 427,213.6 430.4,206.8" fill="none" stroke="#a31515" stroke-width="1.0"/>
<polyline points="453,162.1 455.3,154.7 456.4,148.5 458.7,145.1 460.6,137.4" fill="none" stroke="#a31515" stroke-width="1.0"/>
<circle cx="423.3" cy="206.2" r="1.2" fill="#6e9ff9" fill-opacity="0.9"/>
<circle cx="422.9" cy="210.9" r="1.3" fill="#6e9ff9" fill-opacity="0.9"/>
<circle cx="426.9" cy="201.8" r="2" fill="#6e9ff9" fill-opacity="0.9"/>
<circle cx="429.8" cy="196" r="1.4" fill="#6e9ff9" fill-opacity="0.9"/>
<circle cx="437.1" cy="190.1" r="2.2" fill="#6e9ff9" fill-opacity="0.9"/>
<circle cx="441.5" cy="185" r="2" fill="#6e9ff9" fill-opacity="0.9"/>
<circle cx="420.3" cy="229.5" r="1.6" fill="#6e9ff9" fill-opacity="0.9"/>
<circle cx="420" cy="234.6" r="1.6" fill="#6e9ff9" fill-opacity="0.9"/>
<circle cx="474.4" cy="174.3" r="5.2" fill="#6e9ff9" fill-opacity="0.9"/>
<circle cx="442.3" cy="182.5" r="2.3" fill="#6e9ff9" fill-opacity="0.9"/>
<circle cx="441.7" cy="184.7" r="1.7" fill="#6e9ff9" fill-opacity="0.9"/>
<circle cx="437.2" cy="189.8" r="1.6" fill="#6e9ff9" fill-opacity="0.9"/>
<circle cx="427" cy="201.7" r="1.6" fill="#6e9ff9" fill-opacity="0.9"/>
<circle cx="423.6" cy="205.7" r="1" fill="#6e9ff9" fill-opacity="0.9"/>
<circle cx="423" cy="211.3" r="1" fill="#6e9ff9" fill-opacity="0.9"/>
<circle cx="420.2" cy="230.6" r="1.2" fill="#6e9ff9" fill-opacity="0.9"/>
<circle cx="419.6" cy="234" r="0.8" fill="#6e9ff9" fill-opacity="0.9"/>
<circle cx="480.4" cy="167.7" r="1.6" fill="#6e9ff9" fill-opacity="0.9"/>
<circle cx="483.1" cy="161.2" r="1.2" fill="#6e9ff9" fill-opacity="0.9"/>
<circle cx="485.9" cy="156.2" r="1.5" fill="#6e9ff9" fill-opacity="0.9"/>
<circle cx="493" cy="155.7" r="2.4" fill="#6e9ff9" fill-opacity="0.9"/>
<circle cx="536" cy="147.4" r="6" fill="#6e9ff9" fill-opacity="0.9"/>
<circle cx="540" cy="137" r="1.5" fill="#6e9ff9" fill-opacity="0.9"/>
<circle cx="547.3" cy="129.7" r="2.2" fill="#6e9ff9" fill-opacity="0.9"/>
<circle cx="541.3" cy="130.4" r="1.2" fill="#6e9ff9" fill-opacity="0.9"/>
<circle cx="552.9" cy="124.9" r="2" fill="#6e9ff9" fill-opacity="0.9"/>
<circle cx="556.1" cy="124.5" r="1.8" fill="#6e9ff9" fill-opacity="0.9"/>
<circle cx="557.8" cy="118.1" r="1.2" fill="#6e9ff9" fill-opacity="0.9"/>
<circle cx="561" cy="108.8" r="1" fill="#6e9ff9" fill-opacity="0.9"/>
<circle cx="562" cy="99.8" r="1.1" fill="#6e9ff9" fill-opacity="0.9"/>
<circle cx="573.9" cy="68.9" r="1.3" fill="#6e9ff9" fill-opacity="0.9"/>
<circle cx="579.2" cy="65.9" r="1.6" fill="#6e9ff9" fill-opacity="0.9"/>
<circle cx="598" cy="47" r="2.5" fill="#6e9ff9" fill-opacity="0.9"/>
<circle cx="603" cy="44" r="2" fill="#6e9ff9" fill-opacity="0.9"/>
<circle cx="424.3" cy="218.6" r="2.2" fill="#a31515" fill-opacity="0.95"/>
<circle cx="426.2" cy="214.2" r="2.2" fill="#a31515" fill-opacity="0.95"/>
<circle cx="428.4" cy="212.7" r="1.8" fill="#a31515" fill-opacity="0.95"/>
<circle cx="430.6" cy="206.9" r="2" fill="#a31515" fill-opacity="0.95"/>
<circle cx="432" cy="192.3" r="2.2" fill="#a31515" fill-opacity="0.95"/>
<circle cx="433.5" cy="189.4" r="2" fill="#a31515" fill-opacity="0.95"/>
<circle cx="421" cy="221.5" r="1.5" fill="#a31515" fill-opacity="0.95"/>
<circle cx="419.6" cy="225.9" r="1.3" fill="#a31515" fill-opacity="0.95"/>
<circle cx="418" cy="232" r="1.2" fill="#a31515" fill-opacity="0.95"/>
<circle cx="431.5" cy="196" r="1.6" fill="#a31515" fill-opacity="0.95"/>
<circle cx="433" cy="186" r="1.8" fill="#a31515" fill-opacity="0.95"/>
<circle cx="458.7" cy="145.1" r="2.3" fill="#a31515" fill-opacity="0.95"/>
<circle cx="456.4" cy="148.5" r="1.7" fill="#a31515" fill-opacity="0.95"/>
<circle cx="455.3" cy="154.7" r="1.2" fill="#a31515" fill-opacity="0.95"/>
<circle cx="453" cy="162.1" r="2.8" fill="#a31515" fill-opacity="0.95"/>
<circle cx="446.8" cy="168.3" r="2.5" fill="#a31515" fill-opacity="0.95"/>
<circle cx="441.1" cy="170" r="2.3" fill="#a31515" fill-opacity="0.95"/>
<circle cx="436.6" cy="177.4" r="1.4" fill="#a31515" fill-opacity="0.95"/>
<circle cx="435.5" cy="180" r="1.2" fill="#a31515" fill-opacity="0.95"/>
<circle cx="432.6" cy="192.1" r="1.4" fill="#a31515" fill-opacity="0.95"/>
<circle cx="430.4" cy="206.8" r="1.6" fill="#a31515" fill-opacity="0.95"/>
<circle cx="427" cy="213.6" r="1.6" fill="#a31515" fill-opacity="0.95"/>
<circle cx="424.2" cy="218.1" r="1.6" fill="#a31515" fill-opacity="0.95"/>
<circle cx="420.8" cy="225" r="1" fill="#a31515" fill-opacity="0.95"/>
<circle cx="418.5" cy="231" r="0.9" fill="#a31515" fill-opacity="0.95"/>
<circle cx="460.6" cy="137.4" r="1.3" fill="#a31515" fill-opacity="0.95"/>
<circle cx="495.4" cy="127.8" r="6.5" fill="#a31515" fill-opacity="0.95"/>
<circle cx="498.5" cy="119.6" r="1.6" fill="#a31515" fill-opacity="0.95"/>
<circle cx="502.3" cy="113.5" r="2" fill="#a31515" fill-opacity="0.95"/>
<circle cx="505.3" cy="109.2" r="2.2" fill="#a31515" fill-opacity="0.95"/>
<circle cx="511.1" cy="108.1" r="2.4" fill="#a31515" fill-opacity="0.95"/>
<circle cx="519.3" cy="107" r="2.7" fill="#a31515" fill-opacity="0.95"/>
<circle cx="526.9" cy="101.5" r="2.2" fill="#a31515" fill-opacity="0.95"/>
<circle cx="531.9" cy="97.7" r="1.4" fill="#a31515" fill-opacity="0.95"/>
<circle cx="533.5" cy="94.4" r="1.4" fill="#a31515" fill-opacity="0.95"/>
<circle cx="536.2" cy="91.1" r="1.6" fill="#a31515" fill-opacity="0.95"/>
<circle cx="571.5" cy="87.3" r="5.9" fill="#a31515" fill-opacity="0.95"/>
<circle cx="576.8" cy="74.2" r="1.6" fill="#a31515" fill-opacity="0.95"/>
<circle cx="581" cy="67.1" r="1.9" fill="#a31515" fill-opacity="0.95"/>
<circle cx="585.2" cy="64.7" r="2" fill="#a31515" fill-opacity="0.95"/>
<circle cx="587.5" cy="60.6" r="1.9" fill="#a31515" fill-opacity="0.95"/>
<circle cx="591.3" cy="54" r="2.1" fill="#a31515" fill-opacity="0.95"/>
<circle cx="600.6" cy="51.6" r="3.5" fill="#a31515" fill-opacity="0.95"/>
<circle cx="604.2" cy="50.5" r="2.1" fill="#a31515" fill-opacity="0.95"/>
<circle cx="609.5" cy="46.9" r="2.1" fill="#a31515" fill-opacity="0.95"/>
<rect x="406.5" y="31.5" width="213.0" height="222.5" fill="none" stroke="#595959" stroke-width="1.2"/>
<line x1="402.3" y1="238" x2="406.5" y2="238" stroke="#333" stroke-width="1.0" />
<text x="402.1" y="241.1" font-size="8.7" fill="#4d4d4d" text-anchor="end" font-weight="normal" >0.00</text>
<line x1="416.5" y1="254" x2="416.5" y2="256.8" stroke="#333" stroke-width="1.0" />
<text x="416.5" y="265" font-size="8.6" fill="#4d4d4d" text-anchor="middle" font-weight="normal" >0.00</text>
<line x1="402.3" y1="189.88" x2="406.5" y2="189.88" stroke="#333" stroke-width="1.0" />
<text x="402.1" y="192.97" font-size="8.7" fill="#4d4d4d" text-anchor="end" font-weight="normal" >0.25</text>
<line x1="464.75" y1="254" x2="464.75" y2="256.8" stroke="#333" stroke-width="1.0" />
<text x="464.75" y="265" font-size="8.6" fill="#4d4d4d" text-anchor="middle" font-weight="normal" >0.25</text>
<line x1="402.3" y1="141.75" x2="406.5" y2="141.75" stroke="#333" stroke-width="1.0" />
<text x="402.1" y="144.85" font-size="8.7" fill="#4d4d4d" text-anchor="end" font-weight="normal" >0.50</text>
<line x1="513" y1="254" x2="513" y2="256.8" stroke="#333" stroke-width="1.0" />
<text x="513" y="265" font-size="8.6" fill="#4d4d4d" text-anchor="middle" font-weight="normal" >0.50</text>
<line x1="402.3" y1="93.62" x2="406.5" y2="93.62" stroke="#333" stroke-width="1.0" />
<text x="402.1" y="96.72" font-size="8.7" fill="#4d4d4d" text-anchor="end" font-weight="normal" >0.75</text>
<line x1="561.25" y1="254" x2="561.25" y2="256.8" stroke="#333" stroke-width="1.0" />
<text x="561.25" y="265" font-size="8.6" fill="#4d4d4d" text-anchor="middle" font-weight="normal" >0.75</text>
<line x1="402.3" y1="45.5" x2="406.5" y2="45.5" stroke="#333" stroke-width="1.0" />
<text x="402.1" y="48.6" font-size="8.7" fill="#4d4d4d" text-anchor="end" font-weight="normal" >1.00</text>
<line x1="609.5" y1="254" x2="609.5" y2="256.8" stroke="#333" stroke-width="1.0" />
<text x="609.5" y="265" font-size="8.6" fill="#4d4d4d" text-anchor="middle" font-weight="normal" >1.00</text>
<text x="513" y="277.2" font-size="10.3" fill="#000" text-anchor="middle" font-weight="normal" >Cumulative fraction of population ranked by SDI</text>
<text x="381.2" y="142.75" font-size="10.3" fill="#000" text-anchor="middle" transform="rotate(-90 381.2 142.75)">Cumulative fraction of Deaths</text>
<text x="425.1" y="58.9" font-size="10.4" fill="#5f93f2" text-anchor="start" font-weight="normal" >CI 1990:  −0.11(−0.21, −0.01)</text>
<text x="425.1" y="68.5" font-size="10.4" fill="#a51e1e" text-anchor="start" font-weight="normal" >CI 2021:  −0.27(−0.34, −0.19)</text>
<text x="281.2" y="55.7" font-size="10.0" fill="#000" text-anchor="start" font-weight="normal" >year</text>
<rect x="281.5" y="61.8" width="16.3" height="16.3" fill="#eff5ff" />
<rect x="281.5" y="78.1" width="16.3" height="16.3" fill="#fbe4e4" />
<line x1="282.7" y1="69.95" x2="296.5" y2="69.95" stroke="#6e9ff9" stroke-width="1.1" />
<circle cx="289.65" cy="69.95" r="1.8" fill="#6e9ff9" />
<line x1="282.7" y1="86.25" x2="296.5" y2="86.25" stroke="#8b0000" stroke-width="1.1" />
<circle cx="289.65" cy="86.25" r="1.8" fill="#8b0000" />
<text x="303" y="73.3" font-size="8.4" fill="#1a1a1a" text-anchor="start" font-weight="normal" >1990</text>
<text x="303" y="89.6" font-size="8.4" fill="#1a1a1a" text-anchor="start" font-weight="normal" >2021</text>
<text x="281.2" y="123.7" font-size="10.3" fill="#000" text-anchor="start" font-weight="normal" >Population</text>
<text x="281.2" y="134.3" font-size="10.3" fill="#000" text-anchor="start" font-weight="normal" >(million)</text>
<circle cx="289.2" cy="149.6" r="3" fill="none" stroke="#3a3a3a" stroke-width="0.85"/>
<text x="303" y="152.7" font-size="8.4" fill="#1a1a1a" text-anchor="start" font-weight="normal" >200</text>
<circle cx="289.2" cy="165.8" r="3.9" fill="none" stroke="#3a3a3a" stroke-width="0.85"/>
<text x="303" y="168.9" font-size="8.4" fill="#1a1a1a" text-anchor="start" font-weight="normal" >400</text>
<circle cx="289.2" cy="182" r="4.55" fill="none" stroke="#3a3a3a" stroke-width="0.85"/>
<text x="303" y="185.1" font-size="8.4" fill="#1a1a1a" text-anchor="start" font-weight="normal" >600</text>
<circle cx="289.2" cy="198.2" r="5.1" fill="none" stroke="#3a3a3a" stroke-width="0.85"/>
<text x="303" y="201.3" font-size="8.4" fill="#1a1a1a" text-anchor="start" font-weight="normal" >800</text>
<circle cx="289.2" cy="214.4" r="5.6" fill="none" stroke="#3a3a3a" stroke-width="0.85"/>
<text x="303" y="217.5" font-size="8.4" fill="#1a1a1a" text-anchor="start" font-weight="normal" >1000</text>
<circle cx="289.2" cy="230.6" r="6.05" fill="none" stroke="#3a3a3a" stroke-width="0.85"/>
<text x="303" y="233.7" font-size="8.4" fill="#1a1a1a" text-anchor="start" font-weight="normal" >1200</text>
<text x="634.7" y="55.7" font-size="10.0" fill="#000" text-anchor="start" font-weight="normal" >year</text>
<rect x="635" y="61.8" width="16.3" height="16.3" fill="#8db7fb" />
<rect x="635" y="78.1" width="16.3" height="16.3" fill="#b44c4c" />
<line x1="636.2" y1="69.95" x2="650" y2="69.95" stroke="#6e9ff9" stroke-width="0.5" />
<circle cx="643.15" cy="69.95" r="1.9" fill="#6e9ff9" />
<line x1="636.2" y1="86.25" x2="650" y2="86.25" stroke="#8b0a0a" stroke-width="0.5" />
<circle cx="643.15" cy="86.25" r="1.9" fill="#8b0000" />
<text x="656.5" y="73.3" font-size="8.4" fill="#1a1a1a" text-anchor="start" font-weight="normal" >1990</text>
<text x="656.5" y="89.6" font-size="8.4" fill="#1a1a1a" text-anchor="start" font-weight="normal" >2021</text>
<text x="634.7" y="123.7" font-size="10.3" fill="#000" text-anchor="start" font-weight="normal" >Population</text>
<text x="634.7" y="134.3" font-size="10.3" fill="#000" text-anchor="start" font-weight="normal" >(million)</text>
<circle cx="642.7" cy="149.6" r="3" fill="none" stroke="#3a3a3a" stroke-width="0.85"/>
<text x="656.5" y="152.7" font-size="8.4" fill="#1a1a1a" text-anchor="start" font-weight="normal" >200</text>
<circle cx="642.7" cy="165.8" r="3.9" fill="none" stroke="#3a3a3a" stroke-width="0.85"/>
<text x="656.5" y="168.9" font-size="8.4" fill="#1a1a1a" text-anchor="start" font-weight="normal" >400</text>
<circle cx="642.7" cy="182" r="4.55" fill="none" stroke="#3a3a3a" stroke-width="0.85"/>
<text x="656.5" y="185.1" font-size="8.4" fill="#1a1a1a" text-anchor="start" font-weight="normal" >600</text>
<circle cx="642.7" cy="198.2" r="5.1" fill="none" stroke="#3a3a3a" stroke-width="0.85"/>
<text x="656.5" y="201.3" font-size="8.4" fill="#1a1a1a" text-anchor="start" font-weight="normal" >800</text>
<circle cx="642.7" cy="214.4" r="5.6" fill="none" stroke="#3a3a3a" stroke-width="0.85"/>
<text x="656.5" y="217.5" font-size="8.4" fill="#1a1a1a" text-anchor="start" font-weight="normal" >1000</text>
<circle cx="642.7" cy="230.6" r="6.05" fill="none" stroke="#3a3a3a" stroke-width="0.85"/>
<text x="656.5" y="233.7" font-size="8.4" fill="#1a1a1a" text-anchor="start" font-weight="normal" >1200</text>
<rect x="49.9" y="300" width="572.3" height="22" fill="#f2f2f2" />
<text x="320.3" y="316.9" font-size="11.8" fill="#1a1a1a" text-anchor="start" font-weight="normal" >Female</text>
<text x="0.6" y="343" font-size="19.6" fill="#000" text-anchor="start" font-weight="bold" >C</text>
<text x="350.5" y="341.2" font-size="19.6" fill="#000" text-anchor="start" font-weight="bold" >D</text>
<rect x="50.5" y="330.3" width="215" height="223.1" fill="#fff" />
<line x1="85" y1="330.3" x2="85" y2="553.4" stroke="#f4f4f4" stroke-width="0.6" />
<line x1="134" y1="330.3" x2="134" y2="553.4" stroke="#f4f4f4" stroke-width="0.6" />
<line x1="183" y1="330.3" x2="183" y2="553.4" stroke="#f4f4f4" stroke-width="0.6" />
<line x1="232" y1="330.3" x2="232" y2="553.4" stroke="#f4f4f4" stroke-width="0.6" />
<line x1="50.5" y1="508.7" x2="265.5" y2="508.7" stroke="#f4f4f4" stroke-width="0.6" />
<line x1="50.5" y1="439.3" x2="265.5" y2="439.3" stroke="#f4f4f4" stroke-width="0.6" />
<line x1="50.5" y1="369.9" x2="265.5" y2="369.9" stroke="#f4f4f4" stroke-width="0.6" />
<line x1="60.5" y1="330.3" x2="60.5" y2="553.4" stroke="#ececec" stroke-width="0.8" />
<line x1="109.5" y1="330.3" x2="109.5" y2="553.4" stroke="#ececec" stroke-width="0.8" />
<line x1="158.5" y1="330.3" x2="158.5" y2="553.4" stroke="#ececec" stroke-width="0.8" />
<line x1="207.5" y1="330.3" x2="207.5" y2="553.4" stroke="#ececec" stroke-width="0.8" />
<line x1="256.5" y1="330.3" x2="256.5" y2="553.4" stroke="#ececec" stroke-width="0.8" />
<line x1="50.5" y1="543.4" x2="265.5" y2="543.4" stroke="#ececec" stroke-width="0.8" />
<line x1="50.5" y1="474" x2="265.5" y2="474" stroke="#ececec" stroke-width="0.8" />
<line x1="50.5" y1="404.6" x2="265.5" y2="404.6" stroke="#ececec" stroke-width="0.8" />
<line x1="50.5" y1="335.2" x2="265.5" y2="335.2" stroke="#ececec" stroke-width="0.8" />
<circle cx="65.7" cy="377.4" r="1.45" fill="#6e9ff9"/>
<circle cx="158.7" cy="405.3" r="6" fill="#6e9ff9"/>
<circle cx="103.8" cy="465" r="5.3" fill="#6e9ff9"/>
<circle cx="67.2" cy="468.9" r="1.05" fill="#6e9ff9"/>
<circle cx="64.5" cy="473.8" r="1.45" fill="#6e9ff9"/>
<circle cx="68.1" cy="493.8" r="1.05" fill="#6e9ff9"/>
<circle cx="84.2" cy="497" r="2.45" fill="#6e9ff9"/>
<circle cx="126.4" cy="493.8" r="2.25" fill="#6e9ff9"/>
<circle cx="70.1" cy="499.6" r="2.25" fill="#6e9ff9"/>
<circle cx="185.5" cy="455.7" r="1.75" fill="#6e9ff9"/>
<circle cx="201.9" cy="476.6" r="1.25" fill="#6e9ff9"/>
<circle cx="193.9" cy="488.9" r="2.25" fill="#6e9ff9"/>
<circle cx="207.2" cy="493.8" r="1.05" fill="#6e9ff9"/>
<circle cx="183.3" cy="499" r="1.25" fill="#6e9ff9"/>
<circle cx="74.4" cy="511.6" r="1.25" fill="#6e9ff9"/>
<circle cx="87.5" cy="517" r="1.65" fill="#6e9ff9"/>
<circle cx="76.7" cy="521.8" r="1.45" fill="#6e9ff9"/>
<circle cx="66.8" cy="525.7" r="1.05" fill="#6e9ff9"/>
<circle cx="60.6" cy="530.8" r="1.25" fill="#6e9ff9"/>
<circle cx="61.6" cy="535.4" r="1.25" fill="#6e9ff9"/>
<circle cx="62.7" cy="536.4" r="1.25" fill="#6e9ff9"/>
<circle cx="67.3" cy="537.9" r="1.05" fill="#6e9ff9"/>
<circle cx="60.6" cy="541.5" r="1.05" fill="#6e9ff9"/>
<circle cx="64" cy="542.2" r="1.05" fill="#6e9ff9"/>
<circle cx="66.2" cy="540.5" r="1.05" fill="#6e9ff9"/>
<circle cx="72.9" cy="539" r="1.45" fill="#6e9ff9"/>
<circle cx="73.9" cy="540" r="1.45" fill="#6e9ff9"/>
<circle cx="75.4" cy="539.5" r="1.45" fill="#6e9ff9"/>
<circle cx="78.5" cy="542.5" r="0.85" fill="#6e9ff9"/>
<circle cx="86.5" cy="542.2" r="1.05" fill="#6e9ff9"/>
<circle cx="121.9" cy="526.5" r="1.05" fill="#6e9ff9"/>
<circle cx="121.4" cy="537.9" r="1.25" fill="#6e9ff9"/>
<circle cx="119.4" cy="541.5" r="1.25" fill="#6e9ff9"/>
<circle cx="122.4" cy="535.9" r="1.25" fill="#6e9ff9"/>
<circle cx="123" cy="539" r="1.15" fill="#6e9ff9"/>
<circle cx="183.2" cy="499.1" r="1.15" fill="#6e9ff9"/>
<circle cx="182" cy="514.9" r="1.85" fill="#6e9ff9"/>
<circle cx="191.9" cy="523.1" r="1.45" fill="#6e9ff9"/>
<circle cx="128.3" cy="522.8" r="1.45" fill="#6e9ff9"/>
<circle cx="129.6" cy="528.2" r="1.65" fill="#6e9ff9"/>
<circle cx="126" cy="534.9" r="1.45" fill="#6e9ff9"/>
<circle cx="127" cy="536.4" r="1.45" fill="#6e9ff9"/>
<circle cx="128.6" cy="539" r="1.05" fill="#6e9ff9"/>
<circle cx="128.6" cy="542.5" r="1.05" fill="#6e9ff9"/>
<circle cx="134.2" cy="540" r="2.65" fill="#6e9ff9"/>
<circle cx="188.9" cy="537.9" r="2.05" fill="#6e9ff9"/>
<circle cx="184.3" cy="539.5" r="1.45" fill="#6e9ff9"/>
<circle cx="186.3" cy="541.5" r="1.45" fill="#6e9ff9"/>
<circle cx="182.2" cy="543" r="1.45" fill="#6e9ff9"/>
<circle cx="183.8" cy="530.8" r="1.05" fill="#6e9ff9"/>
<circle cx="191.9" cy="542.5" r="0.85" fill="#6e9ff9"/>
<circle cx="217.5" cy="507.8" r="1.05" fill="#6e9ff9"/>
<circle cx="210.8" cy="513.4" r="1.65" fill="#6e9ff9"/>
<circle cx="218" cy="515.4" r="1.05" fill="#6e9ff9"/>
<circle cx="203.4" cy="517.5" r="1.45" fill="#6e9ff9"/>
<circle cx="206.8" cy="517.7" r="1.25" fill="#6e9ff9"/>
<circle cx="210.1" cy="520.8" r="1.25" fill="#6e9ff9"/>
<circle cx="206" cy="520.8" r="1.05" fill="#6e9ff9"/>
<circle cx="216" cy="521.1" r="1.85" fill="#6e9ff9"/>
<circle cx="233.6" cy="516.3" r="1.05" fill="#6e9ff9"/>
<circle cx="230.3" cy="524.1" r="1.25" fill="#6e9ff9"/>
<circle cx="208.8" cy="524.1" r="1.45" fill="#6e9ff9"/>
<circle cx="203.2" cy="523.6" r="1.05" fill="#6e9ff9"/>
<circle cx="204.7" cy="525.7" r="1.05" fill="#6e9ff9"/>
<circle cx="203.7" cy="527.7" r="1.05" fill="#6e9ff9"/>
<circle cx="213.4" cy="527.2" r="1.45" fill="#6e9ff9"/>
<circle cx="211.4" cy="528.7" r="1.45" fill="#6e9ff9"/>
<circle cx="209.8" cy="530.3" r="1.45" fill="#6e9ff9"/>
<circle cx="228.7" cy="530.3" r="1.25" fill="#6e9ff9"/>
<circle cx="196" cy="539" r="1.75" fill="#6e9ff9"/>
<circle cx="199" cy="541" r="1.95" fill="#6e9ff9"/>
<circle cx="202" cy="538.5" r="1.75" fill="#6e9ff9"/>
<circle cx="205" cy="541.5" r="1.85" fill="#6e9ff9"/>
<circle cx="208" cy="539" r="1.65" fill="#6e9ff9"/>
<circle cx="211" cy="541" r="1.45" fill="#6e9ff9"/>
<circle cx="213" cy="538.5" r="1.25" fill="#6e9ff9"/>
<circle cx="197.5" cy="542.5" r="1.45" fill="#6e9ff9"/>
<circle cx="224" cy="532" r="1.25" fill="#6e9ff9"/>
<circle cx="227" cy="533.5" r="1.25" fill="#6e9ff9"/>
<circle cx="230.5" cy="532" r="1.25" fill="#6e9ff9"/>
<circle cx="243" cy="531.3" r="1.25" fill="#6e9ff9"/>
<circle cx="252.2" cy="534.3" r="1.25" fill="#6e9ff9"/>
<circle cx="205.64" cy="541.22" r="1.91" fill="#6e9ff9"/>
<circle cx="210.64" cy="538.63" r="1.63" fill="#6e9ff9"/>
<circle cx="209.4" cy="540.95" r="1.66" fill="#6e9ff9"/>
<circle cx="209.11" cy="539.38" r="1.99" fill="#6e9ff9"/>
<circle cx="205.71" cy="538.34" r="2.08" fill="#6e9ff9"/>
<circle cx="207.15" cy="538.56" r="2.01" fill="#6e9ff9"/>
<circle cx="208.79" cy="537.9" r="1.84" fill="#6e9ff9"/>
<circle cx="230.99" cy="513.22" r="1.57" fill="#6e9ff9"/>
<circle cx="207.58" cy="531.74" r="1.06" fill="#6e9ff9"/>
<circle cx="228.51" cy="525.95" r="1.65" fill="#6e9ff9"/>
<circle cx="231.99" cy="517.55" r="1.29" fill="#6e9ff9"/>
<circle cx="223.54" cy="518.33" r="1.23" fill="#6e9ff9"/>
<circle cx="209.63" cy="529.3" r="1.66" fill="#6e9ff9"/>
<circle cx="226.13" cy="517.24" r="1.7" fill="#6e9ff9"/>
<circle cx="217.83" cy="517.4" r="1.37" fill="#6e9ff9"/>
<circle cx="215.18" cy="514.5" r="1.45" fill="#6e9ff9"/>
<circle cx="213.44" cy="523.82" r="1.7" fill="#6e9ff9"/>
<circle cx="221.72" cy="520.7" r="1.65" fill="#6e9ff9"/>
<circle cx="231.86" cy="522.31" r="1.71" fill="#6e9ff9"/>
<circle cx="76.2" cy="340.4" r="1.65" fill="#a31515"/>
<circle cx="123.6" cy="398.3" r="6.7" fill="#a31515"/>
<circle cx="105.9" cy="441.6" r="1.75" fill="#a31515"/>
<circle cx="80.5" cy="444" r="1.05" fill="#a31515"/>
<circle cx="95.4" cy="473" r="3.1" fill="#a31515"/>
<circle cx="84.2" cy="480.9" r="2.8" fill="#a31515"/>
<circle cx="65.4" cy="489.1" r="1.75" fill="#a31515"/>
<circle cx="63.7" cy="499.4" r="1.25" fill="#a31515"/>
<circle cx="236.1" cy="490.5" r="1.35" fill="#a31515"/>
<circle cx="220.5" cy="499" r="1.05" fill="#a31515"/>
<circle cx="199.7" cy="504.6" r="6.5" fill="#a31515"/>
<circle cx="64" cy="499.8" r="1.15" fill="#a31515"/>
<circle cx="70.5" cy="510.3" r="2.45" fill="#a31515"/>
<circle cx="101.4" cy="502.4" r="1.85" fill="#a31515"/>
<circle cx="100.5" cy="509.1" r="0.85" fill="#a31515"/>
<circle cx="62.4" cy="519.7" r="1.65" fill="#a31515"/>
<circle cx="73.6" cy="522.4" r="1.25" fill="#a31515"/>
<circle cx="98.9" cy="517.5" r="1.05" fill="#a31515"/>
<circle cx="98.4" cy="522.6" r="0.85" fill="#a31515"/>
<circle cx="102.5" cy="522.1" r="1.45" fill="#a31515"/>
<circle cx="61.3" cy="525.7" r="1.65" fill="#a31515"/>
<circle cx="63.7" cy="524.1" r="1.25" fill="#a31515"/>
<circle cx="69.3" cy="525.1" r="1.45" fill="#a31515"/>
<circle cx="79.3" cy="525.1" r="1.65" fill="#a31515"/>
<circle cx="81.8" cy="526.2" r="1.45" fill="#a31515"/>
<circle cx="65.2" cy="528.2" r="1.65" fill="#a31515"/>
<circle cx="67.8" cy="530.8" r="2.25" fill="#a31515"/>
<circle cx="72.9" cy="529.2" r="1.85" fill="#a31515"/>
<circle cx="75.4" cy="531.3" r="1.65" fill="#a31515"/>
<circle cx="80.5" cy="530.8" r="1.85" fill="#a31515"/>
<circle cx="89.7" cy="528.7" r="3" fill="#a31515"/>
<circle cx="98.9" cy="529.2" r="1.85" fill="#a31515"/>
<circle cx="104" cy="528.2" r="1.85" fill="#a31515"/>
<circle cx="60.6" cy="532.3" r="1.25" fill="#a31515"/>
<circle cx="64.2" cy="537.9" r="1.65" fill="#a31515"/>
<circle cx="71.9" cy="535.4" r="1.45" fill="#a31515"/>
<circle cx="78" cy="536.4" r="2.25" fill="#a31515"/>
<circle cx="82.4" cy="535.9" r="1.05" fill="#a31515"/>
<circle cx="86.7" cy="535.9" r="1.25" fill="#a31515"/>
<circle cx="81.1" cy="540.5" r="1.05" fill="#a31515"/>
<circle cx="74.4" cy="543" r="1.45" fill="#a31515"/>
<circle cx="101" cy="539.1" r="1.65" fill="#a31515"/>
<circle cx="102.5" cy="540.5" r="1.25" fill="#a31515"/>
<circle cx="105.1" cy="535.7" r="1.25" fill="#a31515"/>
<circle cx="106.6" cy="543.2" r="0.85" fill="#a31515"/>
<circle cx="76.5" cy="543" r="1.25" fill="#a31515"/>
<circle cx="148.5" cy="506.4" r="0.95" fill="#a31515"/>
<circle cx="143.4" cy="515.4" r="2.45" fill="#a31515"/>
<circle cx="140.8" cy="520" r="1.05" fill="#a31515"/>
<circle cx="145.4" cy="522.1" r="1.15" fill="#a31515"/>
<circle cx="142.4" cy="523.6" r="1.15" fill="#a31515"/>
<circle cx="144.9" cy="525.1" r="1.15" fill="#a31515"/>
<circle cx="165.7" cy="520.3" r="1.85" fill="#a31515"/>
<circle cx="181" cy="521.4" r="2.05" fill="#a31515"/>
<circle cx="178.1" cy="525.5" r="2.05" fill="#a31515"/>
<circle cx="171.5" cy="529.7" r="2.25" fill="#a31515"/>
<circle cx="161.8" cy="531.3" r="2.8" fill="#a31515"/>
<circle cx="154.1" cy="533.3" r="2.45" fill="#a31515"/>
<circle cx="147" cy="533.3" r="1.65" fill="#a31515"/>
<circle cx="141.4" cy="530.8" r="1.25" fill="#a31515"/>
<circle cx="175.1" cy="531.3" r="1.25" fill="#a31515"/>
<circle cx="141.4" cy="539.5" r="1.45" fill="#a31515"/>
<circle cx="149.5" cy="542.5" r="2.45" fill="#a31515"/>
<circle cx="157.5" cy="539.5" r="1.85" fill="#a31515"/>
<circle cx="166.9" cy="540.5" r="1.85" fill="#a31515"/>
<circle cx="168.4" cy="536.4" r="1.65" fill="#a31515"/>
<circle cx="175.6" cy="536.9" r="1.85" fill="#a31515"/>
<circle cx="173" cy="540.5" r="1.25" fill="#a31515"/>
<circle cx="173" cy="543" r="1.25" fill="#a31515"/>
<circle cx="148" cy="536.9" r="0.95" fill="#a31515"/>
<circle cx="146.5" cy="540" r="0.95" fill="#a31515"/>
<circle cx="146.5" cy="542.5" r="0.95" fill="#a31515"/>
<circle cx="140.8" cy="542.5" r="0.85" fill="#a31515"/>
<circle cx="180.2" cy="539.5" r="1.05" fill="#a31515"/>
<circle cx="182.2" cy="541" r="1.05" fill="#a31515"/>
<circle cx="182.2" cy="543" r="1.05" fill="#a31515"/>
<circle cx="178.1" cy="536.9" r="1.05" fill="#a31515"/>
<circle cx="183.5" cy="519" r="1.45" fill="#a31515"/>
<circle cx="220.5" cy="499.1" r="1.15" fill="#a31515"/>
<circle cx="232.6" cy="519.3" r="1.85" fill="#a31515"/>
<circle cx="233.3" cy="522.6" r="1.05" fill="#a31515"/>
<circle cx="224.1" cy="522.4" r="1.05" fill="#a31515"/>
<circle cx="235.9" cy="525.7" r="1.25" fill="#a31515"/>
<circle cx="218.5" cy="528.7" r="1.65" fill="#a31515"/>
<circle cx="242.5" cy="529.7" r="3" fill="#a31515"/>
<circle cx="253.8" cy="532.3" r="1.25" fill="#a31515"/>
<circle cx="222.6" cy="532.3" r="1.45" fill="#a31515"/>
<circle cx="225.7" cy="533.3" r="1.45" fill="#a31515"/>
<circle cx="218" cy="537" r="1.85" fill="#a31515"/>
<circle cx="221" cy="540" r="2.05" fill="#a31515"/>
<circle cx="224" cy="538" r="1.75" fill="#a31515"/>
<circle cx="226.5" cy="542" r="2.05" fill="#a31515"/>
<circle cx="230" cy="537.5" r="1.85" fill="#a31515"/>
<circle cx="233" cy="541" r="2.05" fill="#a31515"/>
<circle cx="236.5" cy="538" r="1.85" fill="#a31515"/>
<circle cx="238.5" cy="542" r="1.75" fill="#a31515"/>
<circle cx="228.5" cy="543" r="1.55" fill="#a31515"/>
<circle cx="222" cy="543" r="1.45" fill="#a31515"/>
<circle cx="248.5" cy="541" r="2.05" fill="#a31515"/>
<circle cx="251" cy="537.5" r="2.05" fill="#a31515"/>
<circle cx="254" cy="540.5" r="2.05" fill="#a31515"/>
<circle cx="256.5" cy="537" r="1.65" fill="#a31515"/>
<circle cx="250.5" cy="543" r="1.65" fill="#a31515"/>
<circle cx="255" cy="534.5" r="1.45" fill="#a31515"/>
<circle cx="226.9" cy="540.98" r="2.19" fill="#a31515"/>
<circle cx="227.21" cy="540.56" r="1.92" fill="#a31515"/>
<circle cx="220.75" cy="540.6" r="1.95" fill="#a31515"/>
<circle cx="234.74" cy="537.25" r="1.69" fill="#a31515"/>
<circle cx="218.59" cy="542.98" r="2" fill="#a31515"/>
<circle cx="217.46" cy="544.36" r="2.22" fill="#a31515"/>
<circle cx="231.54" cy="541.42" r="1.58" fill="#a31515"/>
<circle cx="216.85" cy="540.73" r="1.5" fill="#a31515"/>
<circle cx="220.87" cy="538.44" r="1.47" fill="#a31515"/>
<circle cx="227.17" cy="540.02" r="2.12" fill="#a31515"/>
<circle cx="228.44" cy="541.62" r="1.85" fill="#a31515"/>
<circle cx="231.74" cy="540.16" r="1.67" fill="#a31515"/>
<circle cx="239.45" cy="544.47" r="2.12" fill="#a31515"/>
<circle cx="232.78" cy="539.02" r="1.63" fill="#a31515"/>
<circle cx="223.15" cy="537.06" r="2.06" fill="#a31515"/>
<circle cx="225.71" cy="543.27" r="1.76" fill="#a31515"/>
<circle cx="238.53" cy="543.28" r="1.45" fill="#a31515"/>
<circle cx="221.32" cy="543.78" r="1.83" fill="#a31515"/>
<circle cx="239.05" cy="539.68" r="1.51" fill="#a31515"/>
<circle cx="230.98" cy="542.73" r="1.67" fill="#a31515"/>
<circle cx="251.69" cy="540.76" r="1.98" fill="#a31515"/>
<circle cx="247.71" cy="535.59" r="1.75" fill="#a31515"/>
<circle cx="249.29" cy="541.98" r="2" fill="#a31515"/>
<circle cx="253.22" cy="539.97" r="1.98" fill="#a31515"/>
<circle cx="247.74" cy="539.02" r="1.58" fill="#a31515"/>
<circle cx="256.87" cy="535.97" r="2.11" fill="#a31515"/>
<circle cx="246.9" cy="541" r="1.72" fill="#a31515"/>
<circle cx="250.86" cy="542.24" r="1.46" fill="#a31515"/>
<circle cx="246.73" cy="542.82" r="1.86" fill="#a31515"/>
<circle cx="247.09" cy="543.4" r="2.21" fill="#a31515"/>
<circle cx="247.35" cy="538.89" r="1.56" fill="#a31515"/>
<circle cx="220.59" cy="532.43" r="1.76" fill="#a31515"/>
<circle cx="226.49" cy="529.93" r="1.49" fill="#a31515"/>
<circle cx="219.47" cy="530.13" r="1.79" fill="#a31515"/>
<circle cx="219.3" cy="531.66" r="1.48" fill="#a31515"/>
<circle cx="220.95" cy="531.16" r="1.85" fill="#a31515"/>
<circle cx="224.08" cy="529.07" r="1.52" fill="#a31515"/>
<line x1="59.6" y1="528.7" x2="254.8" y2="528.7" stroke="#a31515" stroke-width="1.9" stroke-dasharray="3.6 2.5"/>
<line x1="59.6" y1="533.6" x2="256" y2="533.6" stroke="#6e9ff9" stroke-width="1.6" stroke-dasharray="3.6 2.5"/>
<line x1="59.6" y1="533.3" x2="256" y2="536" stroke="#6e9ff9" stroke-width="1.6"/>
<line x1="59.6" y1="530.3" x2="256.3" y2="538.4" stroke="#a31515" stroke-width="1.6"/>
<rect x="50.5" y="330.3" width="215.0" height="223.1" fill="none" stroke="#595959" stroke-width="1.2"/>
<line x1="46.3" y1="543.4" x2="50.5" y2="543.4" stroke="#333" stroke-width="1.0" />
<text x="46" y="546.5" font-size="8.9" fill="#4d4d4d" text-anchor="end" font-weight="normal" >0</text>
<line x1="46.3" y1="474" x2="50.5" y2="474" stroke="#333" stroke-width="1.0" />
<text x="46" y="477.1" font-size="8.9" fill="#4d4d4d" text-anchor="end" font-weight="normal" >100</text>
<line x1="46.3" y1="404.6" x2="50.5" y2="404.6" stroke="#333" stroke-width="1.0" />
<text x="46" y="407.7" font-size="8.9" fill="#4d4d4d" text-anchor="end" font-weight="normal" >200</text>
<line x1="46.3" y1="335.2" x2="50.5" y2="335.2" stroke="#333" stroke-width="1.0" />
<text x="46" y="338.3" font-size="8.9" fill="#4d4d4d" text-anchor="end" font-weight="normal" >300</text>
<line x1="60.5" y1="553.4" x2="60.5" y2="556.2" stroke="#333" stroke-width="1.0" />
<text x="60.5" y="564.4" font-size="8.6" fill="#4d4d4d" text-anchor="middle" font-weight="normal" >0.00</text>
<line x1="109.5" y1="553.4" x2="109.5" y2="556.2" stroke="#333" stroke-width="1.0" />
<text x="109.5" y="564.4" font-size="8.6" fill="#4d4d4d" text-anchor="middle" font-weight="normal" >0.25</text>
<line x1="158.5" y1="553.4" x2="158.5" y2="556.2" stroke="#333" stroke-width="1.0" />
<text x="158.5" y="564.4" font-size="8.6" fill="#4d4d4d" text-anchor="middle" font-weight="normal" >0.50</text>
<line x1="207.5" y1="553.4" x2="207.5" y2="556.2" stroke="#333" stroke-width="1.0" />
<text x="207.5" y="564.4" font-size="8.6" fill="#4d4d4d" text-anchor="middle" font-weight="normal" >0.75</text>
<line x1="256.5" y1="553.4" x2="256.5" y2="556.2" stroke="#333" stroke-width="1.0" />
<text x="256.5" y="564.4" font-size="8.6" fill="#4d4d4d" text-anchor="middle" font-weight="normal" >1.00</text>
<text x="158" y="576.6" font-size="10.3" fill="#000" text-anchor="middle" font-weight="normal" >Relative rank by SDI</text>
<text x="27.3" y="441.85" font-size="10.3" fill="#000" text-anchor="middle" transform="rotate(-90 27.3 441.85)">Deaths rate (per 100,000)</text>
<text x="111.3" y="349.6" font-size="10.35" fill="#5f93f2" text-anchor="start" font-weight="normal" >SII 1990: -3.77(-8.64, 1.10)</text>
<text x="111.3" y="360.8" font-size="10.35" fill="#a51e1e" text-anchor="start" font-weight="normal" >SII 2021: -15.36(-19.56, -11.16)</text>
<rect x="406.5" y="330.3" width="213" height="223.1" fill="#fff" />
<line x1="440.62" y1="330.3" x2="440.62" y2="553.4" stroke="#f4f4f4" stroke-width="0.6" />
<line x1="406.5" y1="512.32" x2="619.5" y2="512.32" stroke="#f4f4f4" stroke-width="0.6" />
<line x1="488.88" y1="330.3" x2="488.88" y2="553.4" stroke="#f4f4f4" stroke-width="0.6" />
<line x1="406.5" y1="464.37" x2="619.5" y2="464.37" stroke="#f4f4f4" stroke-width="0.6" />
<line x1="537.12" y1="330.3" x2="537.12" y2="553.4" stroke="#f4f4f4" stroke-width="0.6" />
<line x1="406.5" y1="416.42" x2="619.5" y2="416.42" stroke="#f4f4f4" stroke-width="0.6" />
<line x1="585.38" y1="330.3" x2="585.38" y2="553.4" stroke="#f4f4f4" stroke-width="0.6" />
<line x1="406.5" y1="368.47" x2="619.5" y2="368.47" stroke="#f4f4f4" stroke-width="0.6" />
<line x1="416.5" y1="330.3" x2="416.5" y2="553.4" stroke="#ececec" stroke-width="0.8" />
<line x1="406.5" y1="536.3" x2="619.5" y2="536.3" stroke="#ececec" stroke-width="0.8" />
<line x1="464.75" y1="330.3" x2="464.75" y2="553.4" stroke="#ececec" stroke-width="0.8" />
<line x1="406.5" y1="488.35" x2="619.5" y2="488.35" stroke="#ececec" stroke-width="0.8" />
<line x1="513" y1="330.3" x2="513" y2="553.4" stroke="#ececec" stroke-width="0.8" />
<line x1="406.5" y1="440.4" x2="619.5" y2="440.4" stroke="#ececec" stroke-width="0.8" />
<line x1="561.25" y1="330.3" x2="561.25" y2="553.4" stroke="#ececec" stroke-width="0.8" />
<line x1="406.5" y1="392.45" x2="619.5" y2="392.45" stroke="#ececec" stroke-width="0.8" />
<line x1="609.5" y1="330.3" x2="609.5" y2="553.4" stroke="#ececec" stroke-width="0.8" />
<line x1="406.5" y1="344.5" x2="619.5" y2="344.5" stroke="#ececec" stroke-width="0.8" />
<polyline points="416.5,536.3 609.5,536.3 609.5,344.5" fill="none" stroke="#c2c2c2" stroke-width="2.0"/>
<line x1="416.5" y1="536.3" x2="609.5" y2="344.5" stroke="#d47a14" stroke-width="1.55" />
<path d="M417.4,537.0 L417.8,535.6 L418.2,534.1 L418.6,532.7 L419.0,531.2 L419.4,529.8 L419.8,528.4 L420.2,526.9 L420.7,525.5 L421.1,524.1 L421.5,522.6 L422.0,521.2 L422.5,519.8 L423.0,518.4 L423.5,517.0 L424.0,515.6 L424.5,514.2 L425.1,512.8 L425.6,511.4 L426.2,510.0 L426.7,508.6 L427.3,507.2 L427.8,505.8 L428.4,504.4 L428.9,503.0 L429.5,501.6 L430.0,500.2 L430.6,498.8 L431.1,497.5 L431.7,496.1 L432.2,494.7 L432.8,493.4 L433.4,492.0 L434.1,490.7 L434.7,489.3 L435.4,488.0 L436.0,486.7 L436.7,485.4 L437.4,484.1 L438.2,482.8 L438.9,481.5 L439.6,480.2 L440.4,479.0 L441.2,477.8 L442.0,476.6 L442.9,475.5 L443.8,474.5 L444.8,473.6 L445.8,472.8 L447.0,472.1 L448.2,471.3 L449.4,470.6 L450.6,469.9 L451.9,469.2 L453.2,468.6 L454.5,468.0 L455.8,467.5 L457.1,467.0 L458.4,466.6 L459.7,466.2 L461.0,466.0 L462.4,465.8 L463.8,465.7 L465.2,465.6 L466.7,465.5 L468.2,465.4 L469.7,465.4 L471.2,465.3 L472.7,465.2 L474.2,465.1 L475.7,465.0 L477.2,464.9 L478.7,464.8 L480.2,464.6 L481.7,464.5 L483.2,464.4 L484.7,464.3 L486.2,464.2 L487.8,464.0 L489.3,463.9 L490.8,463.7 L492.4,463.5 L493.9,463.3 L495.5,463.0 L497.0,462.7 L498.5,462.3 L500.0,462.0 L501.5,461.5 L503.0,461.1 L504.5,460.6 L506.0,460.0 L507.5,459.4 L508.9,458.8 L510.4,458.1 L511.8,457.4 L513.2,456.6 L514.6,455.8 L515.9,454.9 L517.2,454.0 L518.5,453.0 L519.7,452.1 L520.9,451.1 L522.1,450.1 L523.2,449.1 L524.3,448.2 L525.4,447.3 L526.5,446.4 L527.7,445.6 L528.8,444.8 L530.1,444.0 L531.4,443.2 L532.7,442.3 L534.1,441.3 L535.4,440.1 L536.6,438.8 L537.6,437.3 L538.5,435.9 L539.2,434.4 L539.7,433.0 L540.2,431.7 L540.7,430.4 L541.3,429.1 L542.0,427.9 L542.7,426.6 L543.4,425.4 L544.2,424.1 L545.0,422.9 L545.8,421.6 L546.6,420.4 L547.7,419.4 L548.8,418.4 L549.9,417.4 L551.0,416.4 L552.1,415.3 L553.2,414.2 L554.2,413.1 L555.2,411.9 L556.1,410.6 L556.9,409.3 L557.7,407.9 L558.4,406.5 L559.0,405.1 L559.5,403.7 L560.0,402.2 L560.5,400.8 L560.9,399.4 L561.3,397.9 L561.8,396.5 L562.2,395.0 L562.6,393.6 L563.1,392.2 L563.5,390.8 L564.0,389.4 L564.6,388.0 L565.1,386.7 L565.7,385.3 L566.3,384.0 L567.0,382.6 L567.6,381.3 L568.3,380.0 L568.9,378.6 L569.6,377.3 L570.3,376.0 L571.1,374.7 L571.8,373.5 L572.6,372.2 L573.4,371.0 L574.3,369.8 L575.2,368.7 L576.1,367.5 L577.1,366.4 L578.1,365.2 L579.0,364.1 L580.0,362.9 L580.9,361.7 L581.8,360.5 L582.7,359.3 L583.6,358.1 L584.6,357.0 L585.5,355.8 L586.4,354.6 L587.4,353.5 L588.3,352.3 L589.3,351.2 L590.3,350.0 L591.2,348.9 L592.2,347.9 L593.2,346.8 L594.3,345.9 L595.4,345.1 L596.5,344.4 L597.7,343.8 L598.9,343.5 L600.2,343.3 L601.4,343.4 L602.5,343.7 L603.5,344.3 L604.4,345.0 L605.2,346.0 L605.9,347.1 L606.5,348.4 L607.0,349.7 L607.5,351.0 L608.0,352.4 L608.5,353.6 L608.5,353.6 L610.5,352.8 L610.1,351.7 L609.6,350.3 L609.1,348.9 L608.5,347.5 L607.8,346.1 L607.0,344.7 L606.0,343.5 L604.7,342.4 L603.3,341.7 L601.7,341.2 L600.1,341.1 L598.5,341.3 L597.0,341.8 L595.5,342.4 L594.1,343.2 L592.9,344.2 L591.7,345.2 L590.6,346.3 L589.6,347.5 L588.6,348.6 L587.6,349.8 L586.6,350.9 L585.7,352.1 L584.7,353.2 L583.8,354.4 L582.8,355.6 L581.9,356.8 L581.0,358.0 L580.1,359.2 L579.2,360.3 L578.2,361.5 L577.3,362.7 L576.4,363.8 L575.4,365.0 L574.4,366.1 L573.5,367.3 L572.6,368.5 L571.6,369.7 L570.8,371.0 L570.0,372.3 L569.2,373.6 L568.4,374.9 L567.7,376.3 L567.0,377.6 L566.3,379.0 L565.6,380.3 L565.0,381.7 L564.3,383.0 L563.7,384.4 L563.1,385.8 L562.5,387.2 L562.0,388.6 L561.5,390.1 L561.0,391.5 L560.5,393.0 L560.1,394.4 L559.7,395.9 L559.2,397.3 L558.8,398.7 L558.4,400.1 L557.9,401.5 L557.4,402.9 L556.9,404.3 L556.3,405.6 L555.7,406.9 L555.0,408.2 L554.3,409.4 L553.4,410.5 L552.5,411.6 L551.5,412.7 L550.5,413.8 L549.5,414.8 L548.4,415.8 L547.3,416.8 L546.2,417.8 L545.1,418.9 L543.9,419.9 L542.7,420.9 L541.6,422.0 L540.5,423.1 L539.4,424.2 L538.3,425.3 L537.3,426.6 L536.3,427.9 L535.4,429.2 L534.6,430.6 L533.9,431.8 L533.2,433.0 L532.6,434.1 L531.9,435.0 L531.2,435.9 L530.3,436.6 L529.2,437.4 L528.1,438.2 L526.9,439.0 L525.6,439.8 L524.3,440.7 L523.0,441.6 L521.7,442.5 L520.5,443.5 L519.3,444.5 L518.1,445.5 L517.0,446.5 L515.9,447.4 L514.8,448.3 L513.7,449.1 L512.5,449.9 L511.4,450.7 L510.2,451.4 L508.9,452.1 L507.7,452.7 L506.4,453.3 L505.1,453.9 L503.8,454.5 L502.5,454.9 L501.2,455.4 L499.8,455.9 L498.5,456.3 L497.1,456.6 L495.7,457.0 L494.3,457.3 L492.9,457.6 L491.5,457.9 L490.1,458.1 L488.6,458.3 L487.2,458.5 L485.7,458.7 L484.2,458.8 L482.7,459.0 L481.2,459.1 L479.8,459.3 L478.3,459.4 L476.8,459.6 L475.3,459.7 L473.8,459.8 L472.3,460.0 L470.8,460.1 L469.4,460.2 L467.9,460.4 L466.4,460.5 L464.9,460.6 L463.3,460.7 L461.7,460.9 L460.1,461.2 L458.6,461.5 L457.0,462.0 L455.5,462.5 L454.0,463.1 L452.5,463.7 L451.1,464.4 L449.7,465.1 L448.4,465.9 L447.0,466.7 L445.7,467.5 L444.4,468.4 L443.2,469.6 L442.0,470.7 L440.9,471.9 L439.9,473.2 L438.9,474.5 L438.1,475.8 L437.3,477.1 L436.6,478.5 L435.8,479.8 L435.1,481.2 L434.5,482.5 L433.8,483.9 L433.2,485.3 L432.5,486.6 L431.9,488.0 L431.3,489.4 L430.7,490.8 L430.1,492.2 L429.5,493.6 L429.0,495.0 L428.5,496.5 L428.0,497.9 L427.5,499.3 L427.0,500.7 L426.5,502.1 L426.0,503.5 L425.5,505.0 L425.0,506.4 L424.5,507.8 L423.9,509.2 L423.4,510.6 L422.9,512.0 L422.4,513.4 L421.9,514.9 L421.5,516.3 L421.0,517.7 L420.5,519.2 L420.1,520.6 L419.7,522.1 L419.2,523.5 L418.8,525.0 L418.5,526.4 L418.1,527.9 L417.7,529.3 L417.3,530.8 L416.9,532.2 L416.6,533.7 L416.2,535.1 L415.8,536.6 L415.8,536.6Z" fill="#6e9ff9" fill-opacity="0.6"/>
<path d="M417.3,537.0 L417.7,535.5 L418.0,534.1 L418.4,532.6 L418.8,531.2 L419.2,529.7 L419.6,528.3 L420.0,526.8 L420.4,525.4 L420.8,524.0 L421.2,522.5 L421.6,521.1 L422.1,519.7 L422.5,518.2 L423.0,516.8 L423.5,515.4 L424.0,514.0 L424.5,512.6 L425.0,511.2 L425.5,509.8 L426.1,508.4 L426.6,507.0 L427.1,505.6 L427.7,504.2 L428.2,502.8 L428.7,501.4 L429.3,500.0 L429.8,498.6 L430.4,497.2 L430.9,495.8 L431.5,494.4 L432.1,493.1 L432.6,491.7 L433.3,490.3 L433.9,489.0 L434.5,487.6 L435.2,486.3 L435.8,485.0 L436.5,483.6 L437.2,482.3 L438.0,481.0 L438.7,479.7 L439.4,478.5 L440.2,477.2 L441.0,475.9 L441.8,474.7 L442.6,473.5 L443.5,472.3 L444.4,471.0 L445.2,469.8 L446.1,468.6 L447.0,467.4 L447.9,466.2 L448.8,465.0 L449.7,463.9 L450.7,462.7 L451.6,461.5 L452.5,460.3 L453.4,459.2 L454.4,458.0 L455.3,456.9 L456.3,455.7 L457.3,454.6 L458.2,453.4 L459.2,452.3 L460.2,451.2 L461.2,450.1 L462.2,449.0 L463.2,447.8 L464.2,446.7 L465.2,445.6 L466.2,444.5 L467.2,443.4 L468.2,442.3 L469.2,441.2 L470.3,440.1 L471.3,439.0 L472.3,438.0 L473.4,436.9 L474.4,435.8 L475.5,434.8 L476.5,433.7 L477.6,432.6 L478.6,431.6 L479.7,430.6 L480.8,429.6 L481.9,428.6 L483.0,427.6 L484.1,426.7 L485.3,425.7 L486.4,424.8 L487.6,423.9 L488.8,423.0 L490.0,422.1 L491.2,421.2 L492.4,420.2 L493.5,419.3 L494.7,418.3 L495.9,417.4 L497.1,416.4 L498.2,415.5 L499.4,414.6 L500.5,413.7 L501.7,412.8 L502.9,411.9 L504.1,411.0 L505.3,410.2 L506.5,409.4 L507.8,408.6 L509.0,407.9 L510.3,407.2 L511.6,406.4 L512.9,405.7 L514.2,405.1 L515.5,404.4 L516.9,403.8 L518.2,403.2 L519.5,402.6 L520.9,402.1 L522.3,401.5 L523.6,401.0 L525.0,400.6 L526.4,400.1 L527.8,399.7 L529.2,399.4 L530.7,399.0 L532.1,398.7 L533.5,398.3 L535.0,398.0 L536.5,397.7 L537.9,397.4 L539.4,397.0 L540.9,396.7 L542.4,396.3 L543.9,395.9 L545.4,395.4 L546.9,394.8 L548.3,394.2 L549.7,393.5 L551.1,392.8 L552.4,392.1 L553.7,391.5 L555.0,390.8 L556.4,390.2 L557.7,389.5 L559.1,388.8 L560.5,388.2 L561.8,387.4 L563.2,386.7 L564.5,385.9 L565.8,385.0 L567.1,384.1 L568.3,383.2 L569.6,382.2 L570.7,381.2 L571.9,380.1 L573.0,379.1 L574.0,378.0 L575.1,376.9 L576.2,375.8 L577.2,374.7 L578.2,373.6 L579.2,372.5 L580.2,371.4 L581.2,370.3 L582.3,369.3 L583.3,368.2 L584.4,367.2 L585.4,366.1 L586.5,365.1 L587.6,364.1 L588.7,363.1 L589.8,362.0 L590.9,361.0 L592.0,360.1 L593.1,359.1 L594.3,358.2 L595.4,357.2 L596.6,356.3 L597.8,355.5 L599.0,354.6 L600.2,353.7 L601.4,352.9 L602.6,352.0 L603.9,351.2 L605.1,350.3 L606.3,349.4 L607.5,348.6 L608.7,347.7 L609.9,346.9 L611.0,346.1 L611.0,346.1 L609.2,343.7 L608.2,344.4 L607.0,345.3 L605.8,346.1 L604.6,347.0 L603.4,347.8 L602.1,348.7 L600.9,349.6 L599.7,350.4 L598.5,351.3 L597.2,352.2 L596.0,353.0 L594.8,354.0 L593.6,354.9 L592.4,355.8 L591.2,356.8 L590.0,357.8 L588.9,358.8 L587.8,359.8 L586.6,360.7 L585.5,361.7 L584.3,362.7 L583.2,363.8 L582.1,364.8 L581.0,365.8 L579.9,366.9 L578.8,367.9 L577.7,369.0 L576.7,370.1 L575.6,371.1 L574.6,372.2 L573.5,373.3 L572.5,374.3 L571.4,375.4 L570.4,376.4 L569.3,377.3 L568.2,378.3 L567.1,379.3 L566.0,380.2 L564.9,381.1 L563.7,381.9 L562.5,382.7 L561.3,383.4 L560.0,384.1 L558.7,384.8 L557.4,385.4 L556.1,386.1 L554.7,386.7 L553.4,387.4 L552.0,388.1 L550.7,388.8 L549.3,389.5 L548.0,390.1 L546.7,390.8 L545.4,391.3 L544.1,391.8 L542.8,392.3 L541.4,392.7 L540.0,393.0 L538.6,393.3 L537.1,393.7 L535.6,394.0 L534.2,394.3 L532.7,394.6 L531.2,395.0 L529.8,395.4 L528.3,395.8 L526.8,396.2 L525.3,396.6 L523.9,397.1 L522.4,397.6 L521.0,398.2 L519.6,398.7 L518.1,399.3 L516.7,400.0 L515.4,400.6 L514.0,401.3 L512.6,402.0 L511.3,402.7 L510.0,403.5 L508.6,404.2 L507.3,405.0 L506.0,405.8 L504.7,406.7 L503.5,407.5 L502.2,408.4 L501.0,409.3 L499.8,410.2 L498.6,411.2 L497.4,412.1 L496.2,413.1 L495.1,414.1 L493.9,415.0 L492.8,416.0 L491.6,416.9 L490.5,417.9 L489.3,418.8 L488.1,419.7 L487.0,420.7 L485.8,421.6 L484.6,422.5 L483.4,423.5 L482.3,424.5 L481.1,425.5 L480.0,426.5 L478.9,427.5 L477.8,428.6 L476.7,429.6 L475.6,430.7 L474.6,431.8 L473.5,432.9 L472.5,434.0 L471.4,435.1 L470.4,436.2 L469.4,437.3 L468.4,438.4 L467.3,439.5 L466.3,440.6 L465.3,441.7 L464.3,442.8 L463.3,444.0 L462.4,445.1 L461.4,446.2 L460.4,447.4 L459.4,448.5 L458.4,449.6 L457.4,450.8 L456.5,451.9 L455.5,453.1 L454.5,454.3 L453.6,455.4 L452.6,456.6 L451.7,457.8 L450.8,459.0 L449.9,460.2 L449.0,461.4 L448.1,462.6 L447.2,463.8 L446.3,465.0 L445.4,466.2 L444.5,467.4 L443.6,468.6 L442.7,469.9 L441.9,471.1 L441.0,472.4 L440.2,473.6 L439.4,474.9 L438.6,476.2 L437.8,477.5 L437.1,478.8 L436.3,480.1 L435.6,481.5 L434.9,482.8 L434.2,484.2 L433.6,485.5 L432.9,486.9 L432.3,488.2 L431.6,489.6 L431.0,491.0 L430.5,492.4 L429.9,493.8 L429.3,495.2 L428.8,496.6 L428.3,498.0 L427.7,499.4 L427.2,500.8 L426.7,502.2 L426.2,503.6 L425.6,505.0 L425.1,506.4 L424.6,507.8 L424.1,509.2 L423.5,510.7 L423.0,512.1 L422.5,513.5 L422.0,514.9 L421.6,516.3 L421.1,517.8 L420.6,519.2 L420.2,520.7 L419.8,522.1 L419.4,523.6 L419.0,525.0 L418.6,526.5 L418.2,527.9 L417.8,529.4 L417.4,530.8 L417.0,532.3 L416.7,533.7 L416.3,535.2 L415.9,536.6 L415.9,536.6Z" fill="#a31515" fill-opacity="0.75"/>
<path d="M416.6,536.8 C417.38,533.92 419.57,525.02 421.3,519.5 C423.03,513.98 425.12,508.69 427,503.7 C428.88,498.71 430.53,494.08 432.6,489.56 C434.67,485.05 436.93,480.66 439.4,476.6 C441.87,472.54 444.75,468.78 447.4,465.2 C450.05,461.62 453.98,456.78 455.3,455.1" fill="none" stroke="#8b0000" stroke-width="1.2" stroke-opacity="0.8"/>
<polyline points="474,468 480,462 483.5,456 485.3,449.3" fill="none" stroke="#6e9ff9" stroke-width="1.0"/>
<polyline points="534.2,438.4 538.3,429.2 545.4,420 552,415 556.7,407.8 559.7,399.6 562.8,389.4 566.9,380.2 572,371" fill="none" stroke="#6e9ff9" stroke-width="1.0"/>
<polyline points="495.4,423.6 499,414.8 502.8,409.9 505.6,405" fill="none" stroke="#a31515" stroke-width="1.0"/>
<polyline points="526.9,397.9 532.4,393.5 535.7,389.1" fill="none" stroke="#a31515" stroke-width="1.0"/>
<polyline points="420.2,524.1 424.2,516.1 427,511.6 430.4,504.8" fill="none" stroke="#a31515" stroke-width="1.0"/>
<polyline points="453.6,459 455.3,452.7 456.4,445.9 459.8,442.5" fill="none" stroke="#a31515" stroke-width="1.0"/>
<circle cx="423.3" cy="504.7" r="1.2" fill="#6e9ff9" fill-opacity="0.9"/>
<circle cx="422.9" cy="509.4" r="1.3" fill="#6e9ff9" fill-opacity="0.9"/>
<circle cx="426.9" cy="500.3" r="2" fill="#6e9ff9" fill-opacity="0.9"/>
<circle cx="429.8" cy="494.5" r="1.4" fill="#6e9ff9" fill-opacity="0.9"/>
<circle cx="437.1" cy="488.6" r="2.2" fill="#6e9ff9" fill-opacity="0.9"/>
<circle cx="441.5" cy="483.5" r="2" fill="#6e9ff9" fill-opacity="0.9"/>
<circle cx="420.3" cy="528" r="1.6" fill="#6e9ff9" fill-opacity="0.9"/>
<circle cx="420" cy="533.1" r="1.6" fill="#6e9ff9" fill-opacity="0.9"/>
<circle cx="474" cy="468" r="5.1" fill="#6e9ff9" fill-opacity="0.9"/>
<circle cx="442.3" cy="476.5" r="2" fill="#6e9ff9" fill-opacity="0.9"/>
<circle cx="441.8" cy="478.8" r="1.6" fill="#6e9ff9" fill-opacity="0.9"/>
<circle cx="437.7" cy="483.9" r="1.6" fill="#6e9ff9" fill-opacity="0.9"/>
<circle cx="427.6" cy="495.8" r="1.6" fill="#6e9ff9" fill-opacity="0.9"/>
<circle cx="423.6" cy="499.7" r="1" fill="#6e9ff9" fill-opacity="0.9"/>
<circle cx="423" cy="504.8" r="1" fill="#6e9ff9" fill-opacity="0.9"/>
<circle cx="421.5" cy="515" r="0.9" fill="#6e9ff9" fill-opacity="0.9"/>
<circle cx="420.2" cy="527" r="0.9" fill="#6e9ff9" fill-opacity="0.9"/>
<circle cx="480" cy="462" r="1.6" fill="#6e9ff9" fill-opacity="0.9"/>
<circle cx="483.5" cy="456" r="1.2" fill="#6e9ff9" fill-opacity="0.9"/>
<circle cx="485.3" cy="449.3" r="1.5" fill="#6e9ff9" fill-opacity="0.9"/>
<circle cx="492.4" cy="448.8" r="2.4" fill="#6e9ff9" fill-opacity="0.9"/>
<circle cx="534.1" cy="438.9" r="5.5" fill="#6e9ff9" fill-opacity="0.9"/>
<circle cx="538.3" cy="429.2" r="1.4" fill="#6e9ff9" fill-opacity="0.9"/>
<circle cx="540" cy="421" r="1" fill="#6e9ff9" fill-opacity="0.9"/>
<circle cx="545.4" cy="420" r="2" fill="#6e9ff9" fill-opacity="0.9"/>
<circle cx="549" cy="418" r="1.6" fill="#6e9ff9" fill-opacity="0.9"/>
<circle cx="552" cy="415" r="1.8" fill="#6e9ff9" fill-opacity="0.9"/>
<circle cx="556.7" cy="407.8" r="1.1" fill="#6e9ff9" fill-opacity="0.9"/>
<circle cx="559.7" cy="399.6" r="1" fill="#6e9ff9" fill-opacity="0.9"/>
<circle cx="562.8" cy="389.4" r="1" fill="#6e9ff9" fill-opacity="0.9"/>
<circle cx="572.1" cy="364.5" r="1.2" fill="#6e9ff9" fill-opacity="0.9"/>
<circle cx="578.6" cy="361.5" r="1.6" fill="#6e9ff9" fill-opacity="0.9"/>
<circle cx="599.4" cy="347.3" r="2.2" fill="#6e9ff9" fill-opacity="0.9"/>
<circle cx="604" cy="344" r="1.8" fill="#6e9ff9" fill-opacity="0.9"/>
<circle cx="424.3" cy="517.1" r="2.2" fill="#a31515" fill-opacity="0.95"/>
<circle cx="426.2" cy="512.7" r="2.2" fill="#a31515" fill-opacity="0.95"/>
<circle cx="428.4" cy="511.2" r="1.8" fill="#a31515" fill-opacity="0.95"/>
<circle cx="430.6" cy="505.4" r="2" fill="#a31515" fill-opacity="0.95"/>
<circle cx="432" cy="490.8" r="2.2" fill="#a31515" fill-opacity="0.95"/>
<circle cx="433.5" cy="487.9" r="2" fill="#a31515" fill-opacity="0.95"/>
<circle cx="421" cy="520" r="1.5" fill="#a31515" fill-opacity="0.95"/>
<circle cx="419.6" cy="524.4" r="1.3" fill="#a31515" fill-opacity="0.95"/>
<circle cx="418" cy="530.5" r="1.2" fill="#a31515" fill-opacity="0.95"/>
<circle cx="431.5" cy="494.5" r="1.6" fill="#a31515" fill-opacity="0.95"/>
<circle cx="433" cy="484.5" r="1.8" fill="#a31515" fill-opacity="0.95"/>
<circle cx="459.8" cy="442.5" r="2.3" fill="#a31515" fill-opacity="0.95"/>
<circle cx="456.4" cy="445.9" r="1.7" fill="#a31515" fill-opacity="0.95"/>
<circle cx="455.3" cy="452.7" r="1.3" fill="#a31515" fill-opacity="0.95"/>
<circle cx="453.6" cy="459" r="2.8" fill="#a31515" fill-opacity="0.95"/>
<circle cx="447.4" cy="463.5" r="2.3" fill="#a31515" fill-opacity="0.95"/>
<circle cx="441.7" cy="465.2" r="2.5" fill="#a31515" fill-opacity="0.95"/>
<circle cx="437.2" cy="472" r="1.4" fill="#a31515" fill-opacity="0.95"/>
<circle cx="436" cy="475" r="1.3" fill="#a31515" fill-opacity="0.95"/>
<circle cx="434.9" cy="484.4" r="1.5" fill="#a31515" fill-opacity="0.95"/>
<circle cx="430.4" cy="504.8" r="1.6" fill="#a31515" fill-opacity="0.95"/>
<circle cx="427" cy="511.6" r="1.6" fill="#a31515" fill-opacity="0.95"/>
<circle cx="424.2" cy="516.1" r="1.6" fill="#a31515" fill-opacity="0.95"/>
<circle cx="420.2" cy="524.1" r="1.1" fill="#a31515" fill-opacity="0.95"/>
<circle cx="418.5" cy="530" r="0.9" fill="#a31515" fill-opacity="0.95"/>
<circle cx="495.4" cy="423.6" r="6.3" fill="#a31515" fill-opacity="0.95"/>
<circle cx="499" cy="414.8" r="1.6" fill="#a31515" fill-opacity="0.95"/>
<circle cx="502.8" cy="409.9" r="2" fill="#a31515" fill-opacity="0.95"/>
<circle cx="505.6" cy="405" r="2.2" fill="#a31515" fill-opacity="0.95"/>
<circle cx="511.4" cy="403.9" r="2.4" fill="#a31515" fill-opacity="0.95"/>
<circle cx="519.3" cy="403.3" r="2.7" fill="#a31515" fill-opacity="0.95"/>
<circle cx="526.9" cy="397.9" r="2.2" fill="#a31515" fill-opacity="0.95"/>
<circle cx="532.4" cy="393.5" r="1.4" fill="#a31515" fill-opacity="0.95"/>
<circle cx="535.7" cy="389.1" r="1.6" fill="#a31515" fill-opacity="0.95"/>
<circle cx="570.9" cy="385.3" r="5.9" fill="#a31515" fill-opacity="0.95"/>
<circle cx="574.5" cy="372.5" r="1.6" fill="#a31515" fill-opacity="0.95"/>
<circle cx="581" cy="365.7" r="2" fill="#a31515" fill-opacity="0.95"/>
<circle cx="584.6" cy="366.9" r="2" fill="#a31515" fill-opacity="0.95"/>
<circle cx="588.1" cy="360.3" r="2" fill="#a31515" fill-opacity="0.95"/>
<circle cx="591.3" cy="352.6" r="2.1" fill="#a31515" fill-opacity="0.95"/>
<circle cx="600.6" cy="350.8" r="3.5" fill="#a31515" fill-opacity="0.95"/>
<circle cx="604.5" cy="349" r="2" fill="#a31515" fill-opacity="0.95"/>
<circle cx="609.5" cy="345.5" r="2.1" fill="#a31515" fill-opacity="0.95"/>
<rect x="406.5" y="330.3" width="213.0" height="223.1" fill="none" stroke="#595959" stroke-width="1.2"/>
<line x1="402.3" y1="536.3" x2="406.5" y2="536.3" stroke="#333" stroke-width="1.0" />
<text x="402.1" y="539.4" font-size="8.7" fill="#4d4d4d" text-anchor="end" font-weight="normal" >0.00</text>
<line x1="416.5" y1="553.4" x2="416.5" y2="556.2" stroke="#333" stroke-width="1.0" />
<text x="416.5" y="564.4" font-size="8.6" fill="#4d4d4d" text-anchor="middle" font-weight="normal" >0.00</text>
<line x1="402.3" y1="488.35" x2="406.5" y2="488.35" stroke="#333" stroke-width="1.0" />
<text x="402.1" y="491.45" font-size="8.7" fill="#4d4d4d" text-anchor="end" font-weight="normal" >0.25</text>
<line x1="464.75" y1="553.4" x2="464.75" y2="556.2" stroke="#333" stroke-width="1.0" />
<text x="464.75" y="564.4" font-size="8.6" fill="#4d4d4d" text-anchor="middle" font-weight="normal" >0.25</text>
<line x1="402.3" y1="440.4" x2="406.5" y2="440.4" stroke="#333" stroke-width="1.0" />
<text x="402.1" y="443.5" font-size="8.7" fill="#4d4d4d" text-anchor="end" font-weight="normal" >0.50</text>
<line x1="513" y1="553.4" x2="513" y2="556.2" stroke="#333" stroke-width="1.0" />
<text x="513" y="564.4" font-size="8.6" fill="#4d4d4d" text-anchor="middle" font-weight="normal" >0.50</text>
<line x1="402.3" y1="392.45" x2="406.5" y2="392.45" stroke="#333" stroke-width="1.0" />
<text x="402.1" y="395.55" font-size="8.7" fill="#4d4d4d" text-anchor="end" font-weight="normal" >0.75</text>
<line x1="561.25" y1="553.4" x2="561.25" y2="556.2" stroke="#333" stroke-width="1.0" />
<text x="561.25" y="564.4" font-size="8.6" fill="#4d4d4d" text-anchor="middle" font-weight="normal" >0.75</text>
<line x1="402.3" y1="344.5" x2="406.5" y2="344.5" stroke="#333" stroke-width="1.0" />
<text x="402.1" y="347.6" font-size="8.7" fill="#4d4d4d" text-anchor="end" font-weight="normal" >1.00</text>
<line x1="609.5" y1="553.4" x2="609.5" y2="556.2" stroke="#333" stroke-width="1.0" />
<text x="609.5" y="564.4" font-size="8.6" fill="#4d4d4d" text-anchor="middle" font-weight="normal" >1.00</text>
<text x="513" y="576.6" font-size="10.3" fill="#000" text-anchor="middle" font-weight="normal" >Cumulative fraction of population ranked by SDI</text>
<text x="381.2" y="441.85" font-size="10.3" fill="#000" text-anchor="middle" transform="rotate(-90 381.2 441.85)">Cumulative fraction of Deaths</text>
<text x="425.1" y="357.7" font-size="10.4" fill="#5f93f2" text-anchor="start" font-weight="normal" >CI 1990:  −0.16(−0.27, −0.05)</text>
<text x="425.1" y="367.3" font-size="10.4" fill="#a51e1e" text-anchor="start" font-weight="normal" >CI 2021:  −0.28(−0.37, −0.19)</text>
<text x="281.2" y="378.6" font-size="10.0" fill="#000" text-anchor="start" font-weight="normal" >year</text>
<rect x="281.5" y="384.7" width="16.3" height="16.3" fill="#eff5ff" />
<rect x="281.5" y="401" width="16.3" height="16.3" fill="#fbe4e4" />
<line x1="282.7" y1="392.85" x2="296.5" y2="392.85" stroke="#6e9ff9" stroke-width="1.1" />
<circle cx="289.65" cy="392.85" r="1.8" fill="#6e9ff9" />
<line x1="282.7" y1="409.15" x2="296.5" y2="409.15" stroke="#8b0000" stroke-width="1.1" />
<circle cx="289.65" cy="409.15" r="1.8" fill="#8b0000" />
<text x="303" y="396.2" font-size="8.4" fill="#1a1a1a" text-anchor="start" font-weight="normal" >1990</text>
<text x="303" y="412.5" font-size="8.4" fill="#1a1a1a" text-anchor="start" font-weight="normal" >2021</text>
<text x="281.2" y="446.6" font-size="10.3" fill="#000" text-anchor="start" font-weight="normal" >Population</text>
<text x="281.2" y="457.2" font-size="10.3" fill="#000" text-anchor="start" font-weight="normal" >(million)</text>
<circle cx="289.2" cy="472.5" r="3.5" fill="none" stroke="#3a3a3a" stroke-width="0.85"/>
<text x="303" y="475.6" font-size="8.4" fill="#1a1a1a" text-anchor="start" font-weight="normal" >200</text>
<circle cx="289.2" cy="488.7" r="4.9" fill="none" stroke="#3a3a3a" stroke-width="0.85"/>
<text x="303" y="491.8" font-size="8.4" fill="#1a1a1a" text-anchor="start" font-weight="normal" >400</text>
<circle cx="289.2" cy="504.9" r="6" fill="none" stroke="#3a3a3a" stroke-width="0.85"/>
<text x="303" y="508" font-size="8.4" fill="#1a1a1a" text-anchor="start" font-weight="normal" >600</text>
<text x="634.7" y="378.6" font-size="10.0" fill="#000" text-anchor="start" font-weight="normal" >year</text>
<rect x="635" y="384.7" width="16.3" height="16.3" fill="#8db7fb" />
<rect x="635" y="401" width="16.3" height="16.3" fill="#b44c4c" />
<line x1="636.2" y1="392.85" x2="650" y2="392.85" stroke="#6e9ff9" stroke-width="0.5" />
<circle cx="643.15" cy="392.85" r="1.9" fill="#6e9ff9" />
<line x1="636.2" y1="409.15" x2="650" y2="409.15" stroke="#8b0a0a" stroke-width="0.5" />
<circle cx="643.15" cy="409.15" r="1.9" fill="#8b0000" />
<text x="656.5" y="396.2" font-size="8.4" fill="#1a1a1a" text-anchor="start" font-weight="normal" >1990</text>
<text x="656.5" y="412.5" font-size="8.4" fill="#1a1a1a" text-anchor="start" font-weight="normal" >2021</text>
<text x="634.7" y="446.6" font-size="10.3" fill="#000" text-anchor="start" font-weight="normal" >Population</text>
<text x="634.7" y="457.2" font-size="10.3" fill="#000" text-anchor="start" font-weight="normal" >(million)</text>
<circle cx="642.7" cy="472.5" r="3.5" fill="none" stroke="#3a3a3a" stroke-width="0.85"/>
<text x="656.5" y="475.6" font-size="8.4" fill="#1a1a1a" text-anchor="start" font-weight="normal" >200</text>
<circle cx="642.7" cy="488.7" r="4.9" fill="none" stroke="#3a3a3a" stroke-width="0.85"/>
<text x="656.5" y="491.8" font-size="8.4" fill="#1a1a1a" text-anchor="start" font-weight="normal" >400</text>
<circle cx="642.7" cy="504.9" r="6" fill="none" stroke="#3a3a3a" stroke-width="0.85"/>
<text x="656.5" y="508" font-size="8.4" fill="#1a1a1a" text-anchor="start" font-weight="normal" >600</text>
<rect x="49.9" y="600.1" width="572.3" height="22.3" fill="#f2f2f2" />
<text x="319.8" y="616.9" font-size="11.8" fill="#1a1a1a" text-anchor="start" font-weight="normal" >Male</text>
<text x="0.8" y="646" font-size="19.6" fill="#000" text-anchor="start" font-weight="bold" >E</text>
<text x="350.5" y="643.8" font-size="19.6" fill="#000" text-anchor="start" font-weight="bold" >F</text>
<rect x="50.5" y="633.8" width="215" height="222.2" fill="#fff" />
<line x1="85" y1="633.8" x2="85" y2="856" stroke="#f4f4f4" stroke-width="0.6" />
<line x1="134" y1="633.8" x2="134" y2="856" stroke="#f4f4f4" stroke-width="0.6" />
<line x1="183" y1="633.8" x2="183" y2="856" stroke="#f4f4f4" stroke-width="0.6" />
<line x1="232" y1="633.8" x2="232" y2="856" stroke="#f4f4f4" stroke-width="0.6" />
<line x1="50.5" y1="816.5" x2="265.5" y2="816.5" stroke="#f4f4f4" stroke-width="0.6" />
<line x1="50.5" y1="757.5" x2="265.5" y2="757.5" stroke="#f4f4f4" stroke-width="0.6" />
<line x1="50.5" y1="698.5" x2="265.5" y2="698.5" stroke="#f4f4f4" stroke-width="0.6" />
<line x1="60.5" y1="633.8" x2="60.5" y2="856" stroke="#ececec" stroke-width="0.8" />
<line x1="109.5" y1="633.8" x2="109.5" y2="856" stroke="#ececec" stroke-width="0.8" />
<line x1="158.5" y1="633.8" x2="158.5" y2="856" stroke="#ececec" stroke-width="0.8" />
<line x1="207.5" y1="633.8" x2="207.5" y2="856" stroke="#ececec" stroke-width="0.8" />
<line x1="256.5" y1="633.8" x2="256.5" y2="856" stroke="#ececec" stroke-width="0.8" />
<line x1="50.5" y1="846" x2="265.5" y2="846" stroke="#ececec" stroke-width="0.8" />
<line x1="50.5" y1="787" x2="265.5" y2="787" stroke="#ececec" stroke-width="0.8" />
<line x1="50.5" y1="728" x2="265.5" y2="728" stroke="#ececec" stroke-width="0.8" />
<line x1="50.5" y1="669" x2="265.5" y2="669" stroke="#ececec" stroke-width="0.8" />
<circle cx="64.9" cy="691.8" r="1.35" fill="#6e9ff9"/>
<circle cx="160.6" cy="677.2" r="6.1" fill="#6e9ff9"/>
<circle cx="204" cy="724.2" r="1.15" fill="#6e9ff9"/>
<circle cx="188.4" cy="736.3" r="1.55" fill="#6e9ff9"/>
<circle cx="103.8" cy="754.9" r="5.3" fill="#6e9ff9"/>
<circle cx="83.4" cy="761.8" r="2.45" fill="#6e9ff9"/>
<circle cx="66.1" cy="768.5" r="1.25" fill="#6e9ff9"/>
<circle cx="69.3" cy="779.4" r="2.45" fill="#6e9ff9"/>
<circle cx="67.3" cy="781" r="1.15" fill="#6e9ff9"/>
<circle cx="184.7" cy="783.8" r="2.15" fill="#6e9ff9"/>
<circle cx="186" cy="790.2" r="1.15" fill="#6e9ff9"/>
<circle cx="196.3" cy="794.5" r="2.25" fill="#6e9ff9"/>
<circle cx="218.8" cy="761" r="1.15" fill="#6e9ff9"/>
<circle cx="209.3" cy="769.8" r="1.15" fill="#6e9ff9"/>
<circle cx="208.5" cy="793.4" r="1.15" fill="#6e9ff9"/>
<circle cx="217.6" cy="793.4" r="2.15" fill="#6e9ff9"/>
<circle cx="212.5" cy="797.4" r="1.65" fill="#6e9ff9"/>
<circle cx="219.6" cy="797" r="0.95" fill="#6e9ff9"/>
<circle cx="63.4" cy="803.7" r="1.45" fill="#6e9ff9"/>
<circle cx="86.7" cy="809.1" r="1.85" fill="#6e9ff9"/>
<circle cx="66" cy="808.8" r="1.25" fill="#6e9ff9"/>
<circle cx="73.4" cy="811.1" r="1.25" fill="#6e9ff9"/>
<circle cx="123" cy="804.2" r="1.05" fill="#6e9ff9"/>
<circle cx="76.5" cy="822.6" r="1.45" fill="#6e9ff9"/>
<circle cx="60.1" cy="826.7" r="1.45" fill="#6e9ff9"/>
<circle cx="61.1" cy="829.7" r="1.45" fill="#6e9ff9"/>
<circle cx="62.7" cy="830.3" r="1.25" fill="#6e9ff9"/>
<circle cx="60.6" cy="835.9" r="1.25" fill="#6e9ff9"/>
<circle cx="63.2" cy="836.9" r="1.25" fill="#6e9ff9"/>
<circle cx="65.7" cy="837.9" r="1.25" fill="#6e9ff9"/>
<circle cx="59.6" cy="841.8" r="1.25" fill="#6e9ff9"/>
<circle cx="63.2" cy="844" r="1.25" fill="#6e9ff9"/>
<circle cx="65.2" cy="842" r="1.25" fill="#6e9ff9"/>
<circle cx="71.9" cy="837.4" r="1.65" fill="#6e9ff9"/>
<circle cx="73.4" cy="838.9" r="1.65" fill="#6e9ff9"/>
<circle cx="74.4" cy="840.5" r="1.65" fill="#6e9ff9"/>
<circle cx="72.4" cy="843.5" r="1.25" fill="#6e9ff9"/>
<circle cx="85.7" cy="845" r="1.05" fill="#6e9ff9"/>
<circle cx="81.1" cy="833.3" r="0.85" fill="#6e9ff9"/>
<circle cx="121.4" cy="836.9" r="1.25" fill="#6e9ff9"/>
<circle cx="120.4" cy="843" r="1.25" fill="#6e9ff9"/>
<circle cx="123" cy="832.8" r="1.25" fill="#6e9ff9"/>
<circle cx="122.4" cy="840" r="1.25" fill="#6e9ff9"/>
<circle cx="127.6" cy="807.3" r="1.65" fill="#6e9ff9"/>
<circle cx="186.1" cy="812.6" r="0.85" fill="#6e9ff9"/>
<circle cx="194" cy="818.3" r="1.25" fill="#6e9ff9"/>
<circle cx="129.1" cy="821.4" r="1.25" fill="#6e9ff9"/>
<circle cx="130.1" cy="825.7" r="1.65" fill="#6e9ff9"/>
<circle cx="126" cy="831.8" r="1.45" fill="#6e9ff9"/>
<circle cx="128.6" cy="835.9" r="1.05" fill="#6e9ff9"/>
<circle cx="129.1" cy="839" r="1.05" fill="#6e9ff9"/>
<circle cx="129.1" cy="842.5" r="1.05" fill="#6e9ff9"/>
<circle cx="129.3" cy="845.6" r="1.05" fill="#6e9ff9"/>
<circle cx="135.2" cy="841.5" r="2.45" fill="#6e9ff9"/>
<circle cx="191.4" cy="836.9" r="2.25" fill="#6e9ff9"/>
<circle cx="187.1" cy="840.8" r="1.65" fill="#6e9ff9"/>
<circle cx="186.3" cy="844.9" r="1.05" fill="#6e9ff9"/>
<circle cx="182.7" cy="845.6" r="1.05" fill="#6e9ff9"/>
<circle cx="183.2" cy="826.5" r="1.25" fill="#6e9ff9"/>
<circle cx="212.6" cy="797.2" r="1.65" fill="#6e9ff9"/>
<circle cx="219.5" cy="796.8" r="0.85" fill="#6e9ff9"/>
<circle cx="211.1" cy="801.1" r="1.45" fill="#6e9ff9"/>
<circle cx="207.8" cy="803" r="1.05" fill="#6e9ff9"/>
<circle cx="217" cy="802.4" r="1.05" fill="#6e9ff9"/>
<circle cx="212.2" cy="805.7" r="1.15" fill="#6e9ff9"/>
<circle cx="229.7" cy="806" r="2.05" fill="#6e9ff9"/>
<circle cx="205.2" cy="811.1" r="1.05" fill="#6e9ff9"/>
<circle cx="209.1" cy="810.8" r="1.05" fill="#6e9ff9"/>
<circle cx="214.9" cy="811.4" r="1.25" fill="#6e9ff9"/>
<circle cx="218.7" cy="812.9" r="1.25" fill="#6e9ff9"/>
<circle cx="231.6" cy="810.8" r="1.05" fill="#6e9ff9"/>
<circle cx="213.4" cy="814.9" r="1.25" fill="#6e9ff9"/>
<circle cx="215.4" cy="817" r="1.25" fill="#6e9ff9"/>
<circle cx="223.4" cy="816.3" r="2.45" fill="#6e9ff9"/>
<circle cx="227.9" cy="816.5" r="1.65" fill="#6e9ff9"/>
<circle cx="205.7" cy="818" r="1.45" fill="#6e9ff9"/>
<circle cx="230.8" cy="818.3" r="1.25" fill="#6e9ff9"/>
<circle cx="241.5" cy="820.5" r="2.8" fill="#6e9ff9"/>
<circle cx="255.3" cy="821.1" r="1.25" fill="#6e9ff9"/>
<circle cx="211.9" cy="820" r="1.25" fill="#6e9ff9"/>
<circle cx="216.3" cy="821.6" r="1.65" fill="#6e9ff9"/>
<circle cx="205.7" cy="822.4" r="1.05" fill="#6e9ff9"/>
<circle cx="214.4" cy="825.1" r="1.25" fill="#6e9ff9"/>
<circle cx="226.2" cy="829.2" r="1.65" fill="#6e9ff9"/>
<circle cx="232.3" cy="827.2" r="1.65" fill="#6e9ff9"/>
<circle cx="233.8" cy="830.3" r="1.65" fill="#6e9ff9"/>
<circle cx="253.2" cy="831.8" r="1.85" fill="#6e9ff9"/>
<circle cx="246.1" cy="833.8" r="1.65" fill="#6e9ff9"/>
<circle cx="198.6" cy="834.9" r="1.65" fill="#6e9ff9"/>
<circle cx="208.3" cy="837.4" r="1.65" fill="#6e9ff9"/>
<circle cx="210.3" cy="838.9" r="1.65" fill="#6e9ff9"/>
<circle cx="201.1" cy="843" r="2.05" fill="#6e9ff9"/>
<circle cx="203.7" cy="841.5" r="2.05" fill="#6e9ff9"/>
<circle cx="202.7" cy="844.6" r="2.05" fill="#6e9ff9"/>
<circle cx="207.8" cy="842.5" r="1.25" fill="#6e9ff9"/>
<circle cx="212.9" cy="844" r="1.05" fill="#6e9ff9"/>
<circle cx="246.6" cy="842.5" r="1.25" fill="#6e9ff9"/>
<circle cx="255.3" cy="825.7" r="1.05" fill="#6e9ff9"/>
<circle cx="208.53" cy="843.56" r="1.36" fill="#6e9ff9"/>
<circle cx="213.97" cy="837.75" r="1.65" fill="#6e9ff9"/>
<circle cx="196.74" cy="842.82" r="1.34" fill="#6e9ff9"/>
<circle cx="208.42" cy="842.52" r="1.71" fill="#6e9ff9"/>
<circle cx="203.39" cy="843.79" r="1.84" fill="#6e9ff9"/>
<circle cx="197.2" cy="840.65" r="1.82" fill="#6e9ff9"/>
<circle cx="215.44" cy="830.1" r="1.72" fill="#6e9ff9"/>
<circle cx="210.06" cy="828.66" r="1.56" fill="#6e9ff9"/>
<circle cx="204.4" cy="830.78" r="1.25" fill="#6e9ff9"/>
<circle cx="213.09" cy="817.03" r="1.52" fill="#6e9ff9"/>
<circle cx="207.1" cy="823.85" r="1.72" fill="#6e9ff9"/>
<circle cx="219.91" cy="826.66" r="1.55" fill="#6e9ff9"/>
<circle cx="230.22" cy="810.7" r="1.34" fill="#6e9ff9"/>
<circle cx="218.49" cy="808.7" r="1.83" fill="#6e9ff9"/>
<circle cx="223.99" cy="808.55" r="1.52" fill="#6e9ff9"/>
<circle cx="216.68" cy="810.92" r="1.18" fill="#6e9ff9"/>
<circle cx="218.2" cy="807.83" r="1.5" fill="#6e9ff9"/>
<circle cx="219.99" cy="809.3" r="1.75" fill="#6e9ff9"/>
<circle cx="204.34" cy="810.47" r="1.7" fill="#6e9ff9"/>
<circle cx="210.29" cy="817.03" r="1.5" fill="#6e9ff9"/>
<circle cx="74.9" cy="643.9" r="1.55" fill="#a31515"/>
<circle cx="122.3" cy="685.5" r="6.7" fill="#a31515"/>
<circle cx="104.1" cy="717.3" r="1.65" fill="#a31515"/>
<circle cx="93.5" cy="728.1" r="3.2" fill="#a31515"/>
<circle cx="82.9" cy="757.3" r="2.6" fill="#a31515"/>
<circle cx="79.2" cy="758.6" r="0.85" fill="#a31515"/>
<circle cx="99.5" cy="783.8" r="2.15" fill="#a31515"/>
<circle cx="62.8" cy="789.4" r="1.35" fill="#a31515"/>
<circle cx="199.2" cy="780.6" r="6.4" fill="#a31515"/>
<circle cx="220.5" cy="791.8" r="1.05" fill="#a31515"/>
<circle cx="98.9" cy="801.1" r="1.15" fill="#a31515"/>
<circle cx="97.1" cy="803.7" r="1.15" fill="#a31515"/>
<circle cx="96.7" cy="811.1" r="0.95" fill="#a31515"/>
<circle cx="69.8" cy="811.9" r="2.45" fill="#a31515"/>
<circle cx="75.9" cy="812.9" r="1.45" fill="#a31515"/>
<circle cx="81.1" cy="811.1" r="1.45" fill="#a31515"/>
<circle cx="72.6" cy="815.4" r="1.25" fill="#a31515"/>
<circle cx="63.2" cy="816.5" r="1.65" fill="#a31515"/>
<circle cx="64.7" cy="817.5" r="1.65" fill="#a31515"/>
<circle cx="61.3" cy="819.5" r="1.65" fill="#a31515"/>
<circle cx="68.3" cy="819.5" r="1.45" fill="#a31515"/>
<circle cx="73.4" cy="822.1" r="1.85" fill="#a31515"/>
<circle cx="78.5" cy="821.1" r="1.85" fill="#a31515"/>
<circle cx="80.5" cy="822.6" r="1.85" fill="#a31515"/>
<circle cx="100.5" cy="819.5" r="1.25" fill="#a31515"/>
<circle cx="102.5" cy="822.6" r="1.65" fill="#a31515"/>
<circle cx="60.6" cy="823.6" r="1.65" fill="#a31515"/>
<circle cx="66.2" cy="826.7" r="2.25" fill="#a31515"/>
<circle cx="71.4" cy="828.2" r="1.65" fill="#a31515"/>
<circle cx="75.4" cy="826.7" r="1.45" fill="#a31515"/>
<circle cx="79.5" cy="828.2" r="1.65" fill="#a31515"/>
<circle cx="87.7" cy="826.2" r="2.8" fill="#a31515"/>
<circle cx="97.9" cy="827.7" r="1.65" fill="#a31515"/>
<circle cx="101.5" cy="827.5" r="1.65" fill="#a31515"/>
<circle cx="103.5" cy="831.8" r="1.45" fill="#a31515"/>
<circle cx="65.2" cy="833.3" r="1.25" fill="#a31515"/>
<circle cx="70.8" cy="832.8" r="1.45" fill="#a31515"/>
<circle cx="77" cy="832.3" r="1.25" fill="#a31515"/>
<circle cx="63.7" cy="835.4" r="1.45" fill="#a31515"/>
<circle cx="76.5" cy="836.9" r="2.05" fill="#a31515"/>
<circle cx="85.1" cy="836.9" r="1.45" fill="#a31515"/>
<circle cx="98.9" cy="837.4" r="1.25" fill="#a31515"/>
<circle cx="103" cy="837.9" r="1.25" fill="#a31515"/>
<circle cx="98.9" cy="841.5" r="1.45" fill="#a31515"/>
<circle cx="100.5" cy="842.2" r="1.45" fill="#a31515"/>
<circle cx="79.5" cy="842" r="1.05" fill="#a31515"/>
<circle cx="73.4" cy="845.6" r="1.45" fill="#a31515"/>
<circle cx="75" cy="845.5" r="1.25" fill="#a31515"/>
<circle cx="104.6" cy="846.1" r="0.85" fill="#a31515"/>
<circle cx="180" cy="805.7" r="2.25" fill="#a31515"/>
<circle cx="141.3" cy="809.3" r="1.15" fill="#a31515"/>
<circle cx="144.2" cy="807.8" r="1.15" fill="#a31515"/>
<circle cx="140.3" cy="816.3" r="1.05" fill="#a31515"/>
<circle cx="148" cy="815.4" r="0.85" fill="#a31515"/>
<circle cx="178.1" cy="815.6" r="1.45" fill="#a31515"/>
<circle cx="160.6" cy="818.7" r="3.2" fill="#a31515"/>
<circle cx="146.3" cy="822.1" r="2.25" fill="#a31515"/>
<circle cx="140.3" cy="822.6" r="1.05" fill="#a31515"/>
<circle cx="142.9" cy="826.7" r="2.25" fill="#a31515"/>
<circle cx="175.1" cy="825.7" r="2.45" fill="#a31515"/>
<circle cx="177.1" cy="827.7" r="2.25" fill="#a31515"/>
<circle cx="170" cy="830.8" r="1.85" fill="#a31515"/>
<circle cx="153.1" cy="832.3" r="2.45" fill="#a31515"/>
<circle cx="164.9" cy="826.7" r="1.05" fill="#a31515"/>
<circle cx="164.3" cy="828.2" r="1.05" fill="#a31515"/>
<circle cx="140.3" cy="832.8" r="1.05" fill="#a31515"/>
<circle cx="144.4" cy="833.8" r="1.05" fill="#a31515"/>
<circle cx="147.5" cy="833.8" r="1.05" fill="#a31515"/>
<circle cx="147.5" cy="835.9" r="1.05" fill="#a31515"/>
<circle cx="143.9" cy="837.9" r="0.85" fill="#a31515"/>
<circle cx="140.5" cy="840.5" r="1.65" fill="#a31515"/>
<circle cx="149" cy="844.6" r="2.45" fill="#a31515"/>
<circle cx="156.7" cy="841.5" r="1.85" fill="#a31515"/>
<circle cx="165.9" cy="842.5" r="1.85" fill="#a31515"/>
<circle cx="167.1" cy="837.9" r="1.65" fill="#a31515"/>
<circle cx="172" cy="841.8" r="1.25" fill="#a31515"/>
<circle cx="173.5" cy="837.9" r="1.05" fill="#a31515"/>
<circle cx="175.6" cy="838.4" r="1.05" fill="#a31515"/>
<circle cx="178.6" cy="841.5" r="1.45" fill="#a31515"/>
<circle cx="181" cy="838.9" r="1.05" fill="#a31515"/>
<circle cx="172" cy="845.1" r="0.85" fill="#a31515"/>
<circle cx="144.4" cy="843.5" r="1.05" fill="#a31515"/>
<circle cx="140.3" cy="844" r="1.05" fill="#a31515"/>
<circle cx="180.7" cy="846.1" r="0.85" fill="#a31515"/>
<circle cx="218.5" cy="810.3" r="1.65" fill="#a31515"/>
<circle cx="224.1" cy="810.3" r="0.85" fill="#a31515"/>
<circle cx="232.6" cy="815.4" r="1.05" fill="#a31515"/>
<circle cx="222.6" cy="820.3" r="1.85" fill="#a31515"/>
<circle cx="225.7" cy="825.5" r="2.05" fill="#a31515"/>
<circle cx="231.6" cy="824.1" r="1.85" fill="#a31515"/>
<circle cx="235.1" cy="826.2" r="1.45" fill="#a31515"/>
<circle cx="251.4" cy="819.8" r="2.05" fill="#a31515"/>
<circle cx="242" cy="832.6" r="2.8" fill="#a31515"/>
<circle cx="219.5" cy="828.7" r="1.05" fill="#a31515"/>
<circle cx="224.6" cy="830.8" r="1.05" fill="#a31515"/>
<circle cx="217" cy="832.8" r="1.25" fill="#a31515"/>
<circle cx="229.7" cy="833.8" r="1.25" fill="#a31515"/>
<circle cx="232.8" cy="832.3" r="1.25" fill="#a31515"/>
<circle cx="216" cy="836" r="1.85" fill="#a31515"/>
<circle cx="218.5" cy="839.5" r="2.05" fill="#a31515"/>
<circle cx="221" cy="843" r="1.85" fill="#a31515"/>
<circle cx="224" cy="837" r="1.75" fill="#a31515"/>
<circle cx="226.5" cy="841" r="2.05" fill="#a31515"/>
<circle cx="229" cy="844" r="1.75" fill="#a31515"/>
<circle cx="231.5" cy="838.5" r="1.85" fill="#a31515"/>
<circle cx="234" cy="842" r="2.05" fill="#a31515"/>
<circle cx="237" cy="838" r="1.75" fill="#a31515"/>
<circle cx="238.5" cy="843.5" r="1.65" fill="#a31515"/>
<circle cx="219.5" cy="845" r="1.45" fill="#a31515"/>
<circle cx="235.5" cy="845" r="1.45" fill="#a31515"/>
<circle cx="248.6" cy="839.5" r="2.25" fill="#a31515"/>
<circle cx="254.3" cy="836.9" r="2.25" fill="#a31515"/>
<circle cx="251" cy="842.5" r="1.85" fill="#a31515"/>
<circle cx="256.5" cy="840" r="1.75" fill="#a31515"/>
<circle cx="247.5" cy="835" r="1.65" fill="#a31515"/>
<circle cx="253" cy="845" r="1.25" fill="#a31515"/>
<circle cx="257" cy="834.5" r="1.55" fill="#a31515"/>
<circle cx="220.58" cy="842.19" r="1.89" fill="#a31515"/>
<circle cx="227.4" cy="837.6" r="2" fill="#a31515"/>
<circle cx="234.53" cy="840.47" r="1.8" fill="#a31515"/>
<circle cx="222.12" cy="835.53" r="1.71" fill="#a31515"/>
<circle cx="229.7" cy="836.17" r="2.01" fill="#a31515"/>
<circle cx="222.04" cy="837.76" r="1.48" fill="#a31515"/>
<circle cx="238.65" cy="842.67" r="2.06" fill="#a31515"/>
<circle cx="230.36" cy="835.83" r="1.68" fill="#a31515"/>
<circle cx="227.8" cy="836.62" r="2.12" fill="#a31515"/>
<circle cx="225" cy="837" r="2.02" fill="#a31515"/>
<circle cx="219.71" cy="844.5" r="1.77" fill="#a31515"/>
<circle cx="228.98" cy="838.83" r="1.79" fill="#a31515"/>
<circle cx="221.06" cy="835.86" r="2.06" fill="#a31515"/>
<circle cx="222.1" cy="843.07" r="1.6" fill="#a31515"/>
<circle cx="238.02" cy="844.17" r="1.98" fill="#a31515"/>
<circle cx="233.55" cy="841.13" r="1.96" fill="#a31515"/>
<circle cx="256.06" cy="834.49" r="1.47" fill="#a31515"/>
<circle cx="256.49" cy="834.95" r="1.53" fill="#a31515"/>
<circle cx="252.84" cy="836.66" r="2.07" fill="#a31515"/>
<circle cx="248.43" cy="843.17" r="1.67" fill="#a31515"/>
<circle cx="252.31" cy="842.88" r="1.93" fill="#a31515"/>
<circle cx="255.7" cy="840.51" r="1.48" fill="#a31515"/>
<circle cx="255.25" cy="839.25" r="1.67" fill="#a31515"/>
<circle cx="248" cy="842.01" r="1.86" fill="#a31515"/>
<circle cx="255.85" cy="841.2" r="2.12" fill="#a31515"/>
<circle cx="255.4" cy="837.74" r="1.99" fill="#a31515"/>
<circle cx="248.67" cy="835.96" r="1.7" fill="#a31515"/>
<circle cx="252.24" cy="833.65" r="1.57" fill="#a31515"/>
<circle cx="251.56" cy="834.11" r="1.72" fill="#a31515"/>
<circle cx="248.2" cy="833.43" r="1.88" fill="#a31515"/>
<line x1="59.6" y1="825.1" x2="253.8" y2="825.1" stroke="#a31515" stroke-width="1.9" stroke-dasharray="3.6 2.5"/>
<line x1="59.6" y1="830.8" x2="256" y2="829.5" stroke="#6e9ff9" stroke-width="1.6"/>
<line x1="59.6" y1="825.6" x2="256.3" y2="838.8" stroke="#a31515" stroke-width="1.6"/>
<rect x="50.5" y="633.8" width="215.0" height="222.2" fill="none" stroke="#595959" stroke-width="1.2"/>
<line x1="46.3" y1="846" x2="50.5" y2="846" stroke="#333" stroke-width="1.0" />
<text x="46" y="849.1" font-size="8.9" fill="#4d4d4d" text-anchor="end" font-weight="normal" >0</text>
<line x1="46.3" y1="787" x2="50.5" y2="787" stroke="#333" stroke-width="1.0" />
<text x="46" y="790.1" font-size="8.9" fill="#4d4d4d" text-anchor="end" font-weight="normal" >100</text>
<line x1="46.3" y1="728" x2="50.5" y2="728" stroke="#333" stroke-width="1.0" />
<text x="46" y="731.1" font-size="8.9" fill="#4d4d4d" text-anchor="end" font-weight="normal" >200</text>
<line x1="46.3" y1="669" x2="50.5" y2="669" stroke="#333" stroke-width="1.0" />
<text x="46" y="672.1" font-size="8.9" fill="#4d4d4d" text-anchor="end" font-weight="normal" >300</text>
<line x1="60.5" y1="856" x2="60.5" y2="858.8" stroke="#333" stroke-width="1.0" />
<text x="60.5" y="867" font-size="8.6" fill="#4d4d4d" text-anchor="middle" font-weight="normal" >0.00</text>
<line x1="109.5" y1="856" x2="109.5" y2="858.8" stroke="#333" stroke-width="1.0" />
<text x="109.5" y="867" font-size="8.6" fill="#4d4d4d" text-anchor="middle" font-weight="normal" >0.25</text>
<line x1="158.5" y1="856" x2="158.5" y2="858.8" stroke="#333" stroke-width="1.0" />
<text x="158.5" y="867" font-size="8.6" fill="#4d4d4d" text-anchor="middle" font-weight="normal" >0.50</text>
<line x1="207.5" y1="856" x2="207.5" y2="858.8" stroke="#333" stroke-width="1.0" />
<text x="207.5" y="867" font-size="8.6" fill="#4d4d4d" text-anchor="middle" font-weight="normal" >0.75</text>
<line x1="256.5" y1="856" x2="256.5" y2="858.8" stroke="#333" stroke-width="1.0" />
<text x="256.5" y="867" font-size="8.6" fill="#4d4d4d" text-anchor="middle" font-weight="normal" >1.00</text>
<text x="158" y="879.2" font-size="10.3" fill="#000" text-anchor="middle" font-weight="normal" >Relative rank by SDI</text>
<text x="27.3" y="744.9" font-size="10.3" fill="#000" text-anchor="middle" transform="rotate(-90 27.3 744.9)">Deaths rate (per 100,000)</text>
<text x="109.2" y="649.9" font-size="10.35" fill="#5f93f2" text-anchor="start" font-weight="normal" >SII 1990: 2.17(-7.86, 12.20)</text>
<text x="109.2" y="661.6" font-size="10.35" fill="#a51e1e" text-anchor="start" font-weight="normal" >SII 2021: -24.05(-31.19, -16.91)</text>
<rect x="406.5" y="633.8" width="213" height="222.2" fill="#fff" />
<line x1="440.62" y1="633.8" x2="440.62" y2="856" stroke="#f4f4f4" stroke-width="0.6" />
<line x1="406.5" y1="816.4" x2="619.5" y2="816.4" stroke="#f4f4f4" stroke-width="0.6" />
<line x1="488.88" y1="633.8" x2="488.88" y2="856" stroke="#f4f4f4" stroke-width="0.6" />
<line x1="406.5" y1="768.2" x2="619.5" y2="768.2" stroke="#f4f4f4" stroke-width="0.6" />
<line x1="537.12" y1="633.8" x2="537.12" y2="856" stroke="#f4f4f4" stroke-width="0.6" />
<line x1="406.5" y1="720" x2="619.5" y2="720" stroke="#f4f4f4" stroke-width="0.6" />
<line x1="585.38" y1="633.8" x2="585.38" y2="856" stroke="#f4f4f4" stroke-width="0.6" />
<line x1="406.5" y1="671.8" x2="619.5" y2="671.8" stroke="#f4f4f4" stroke-width="0.6" />
<line x1="416.5" y1="633.8" x2="416.5" y2="856" stroke="#ececec" stroke-width="0.8" />
<line x1="406.5" y1="840.5" x2="619.5" y2="840.5" stroke="#ececec" stroke-width="0.8" />
<line x1="464.75" y1="633.8" x2="464.75" y2="856" stroke="#ececec" stroke-width="0.8" />
<line x1="406.5" y1="792.3" x2="619.5" y2="792.3" stroke="#ececec" stroke-width="0.8" />
<line x1="513" y1="633.8" x2="513" y2="856" stroke="#ececec" stroke-width="0.8" />
<line x1="406.5" y1="744.1" x2="619.5" y2="744.1" stroke="#ececec" stroke-width="0.8" />
<line x1="561.25" y1="633.8" x2="561.25" y2="856" stroke="#ececec" stroke-width="0.8" />
<line x1="406.5" y1="695.9" x2="619.5" y2="695.9" stroke="#ececec" stroke-width="0.8" />
<line x1="609.5" y1="633.8" x2="609.5" y2="856" stroke="#ececec" stroke-width="0.8" />
<line x1="406.5" y1="647.7" x2="619.5" y2="647.7" stroke="#ececec" stroke-width="0.8" />
<polyline points="416.5,840.5 609.5,840.5 609.5,647.7" fill="none" stroke="#c2c2c2" stroke-width="2.0"/>
<line x1="416.5" y1="840.5" x2="609.5" y2="647.7" stroke="#d47a14" stroke-width="1.55" />
<path d="M417.4,841.2 L417.8,839.8 L418.3,838.4 L418.7,836.9 L419.2,835.5 L419.6,834.1 L420.1,832.7 L420.6,831.2 L421.0,829.8 L421.5,828.4 L422.0,827.0 L422.6,825.6 L423.1,824.2 L423.7,822.9 L424.2,821.5 L424.8,820.1 L425.4,818.7 L426.0,817.4 L426.6,816.0 L427.2,814.6 L427.8,813.2 L428.4,811.9 L429.0,810.5 L429.6,809.1 L430.1,807.7 L430.7,806.3 L431.2,804.9 L431.9,803.6 L432.5,802.4 L433.3,801.3 L434.1,800.3 L435.0,799.4 L436.0,798.6 L437.2,798.0 L438.4,797.3 L439.8,796.7 L441.2,796.0 L442.5,795.2 L443.8,794.4 L445.1,793.6 L446.3,792.8 L447.6,792.2 L448.9,791.5 L450.1,790.8 L451.4,790.1 L452.8,789.5 L454.1,788.9 L455.4,788.3 L456.7,787.8 L458.0,787.3 L459.4,786.9 L460.7,786.5 L462.1,786.2 L463.5,785.9 L464.9,785.6 L466.4,785.4 L467.9,785.1 L469.4,784.8 L471.0,784.4 L472.5,784.0 L474.0,783.6 L475.4,783.2 L476.9,782.7 L478.3,782.3 L479.8,781.9 L481.2,781.4 L482.6,781.0 L484.0,780.6 L485.4,780.2 L486.9,779.8 L488.3,779.4 L489.8,779.0 L491.3,778.6 L492.8,778.1 L494.2,777.6 L495.7,777.0 L497.2,776.5 L498.6,775.9 L500.0,775.3 L501.4,774.7 L502.7,774.1 L504.1,773.5 L505.4,772.9 L506.8,772.4 L508.1,771.9 L509.5,771.4 L510.9,770.9 L512.3,770.4 L513.8,769.9 L515.2,769.4 L516.7,768.8 L518.1,768.1 L519.5,767.5 L520.9,766.8 L522.3,766.1 L523.6,765.5 L524.9,764.8 L526.2,764.2 L527.6,763.6 L528.9,763.1 L530.3,762.5 L531.7,761.9 L533.2,761.2 L534.6,760.5 L536.0,759.7 L537.4,758.8 L538.7,757.8 L539.9,756.6 L540.9,755.3 L541.9,754.1 L542.9,752.8 L543.8,751.5 L544.6,750.2 L545.5,748.9 L546.2,747.6 L547.1,746.3 L547.9,745.1 L548.8,744.0 L549.8,742.8 L550.7,741.8 L551.7,740.8 L552.8,739.8 L554.0,738.9 L555.1,737.8 L556.2,736.8 L557.3,735.6 L558.2,734.4 L559.1,733.1 L559.9,731.7 L560.6,730.4 L561.3,729.0 L561.9,727.6 L562.5,726.2 L563.0,724.7 L563.5,723.3 L563.9,721.8 L564.3,720.3 L564.6,718.8 L564.9,717.4 L565.3,715.9 L565.6,714.4 L565.9,713.0 L566.3,711.5 L566.6,710.1 L567.0,708.7 L567.5,707.3 L567.9,705.9 L568.4,704.4 L568.9,703.0 L569.3,701.6 L569.8,700.1 L570.2,698.7 L570.7,697.3 L571.1,695.8 L571.5,694.4 L571.9,692.9 L572.4,691.5 L572.8,690.1 L573.3,688.7 L573.8,687.3 L574.3,686.0 L574.9,684.6 L575.5,683.3 L576.2,682.0 L576.9,680.7 L577.6,679.3 L578.3,678.0 L579.0,676.6 L579.6,675.3 L580.3,673.9 L580.9,672.5 L581.5,671.2 L582.1,669.8 L582.7,668.4 L583.4,667.1 L584.0,665.7 L584.6,664.4 L585.3,663.1 L586.0,661.8 L586.7,660.5 L587.4,659.2 L588.2,657.9 L588.9,656.6 L589.7,655.4 L590.6,654.2 L591.4,653.0 L592.4,651.9 L593.3,650.8 L594.3,649.8 L595.4,648.9 L596.5,648.1 L597.6,647.5 L598.8,647.1 L600.0,646.9 L601.1,646.9 L602.2,647.2 L603.2,647.7 L604.1,648.5 L604.9,649.5 L605.6,650.6 L606.3,651.9 L606.9,653.2 L607.4,654.5 L608.0,655.9 L608.5,657.2 L609.0,658.5 L609.1,658.8 L611.1,658.0 L610.7,656.9 L610.2,655.5 L609.7,654.2 L609.1,652.8 L608.5,651.4 L607.8,650.0 L607.0,648.6 L606.0,647.4 L604.9,646.2 L603.5,645.4 L602.0,644.8 L600.3,644.6 L598.7,644.8 L597.2,645.3 L595.8,646.0 L594.4,646.9 L593.2,647.9 L592.1,649.0 L591.0,650.1 L590.0,651.3 L589.1,652.5 L588.2,653.8 L587.4,655.0 L586.6,656.3 L585.8,657.6 L585.0,658.9 L584.3,660.3 L583.6,661.6 L582.9,663.0 L582.2,664.3 L581.6,665.7 L580.9,667.1 L580.3,668.4 L579.7,669.8 L579.1,671.2 L578.5,672.5 L577.8,673.9 L577.2,675.2 L576.5,676.6 L575.9,677.9 L575.2,679.2 L574.5,680.5 L573.8,681.9 L573.1,683.2 L572.5,684.6 L571.9,686.1 L571.4,687.5 L570.9,688.9 L570.4,690.4 L570.0,691.8 L569.5,693.3 L569.1,694.7 L568.7,696.2 L568.3,697.6 L567.8,699.0 L567.4,700.4 L566.9,701.9 L566.5,703.3 L566.0,704.7 L565.5,706.1 L565.1,707.6 L564.7,709.0 L564.2,710.5 L563.9,712.0 L563.5,713.5 L563.2,714.9 L562.9,716.4 L562.6,717.9 L562.3,719.3 L561.9,720.7 L561.5,722.1 L561.1,723.5 L560.6,724.9 L560.1,726.3 L559.5,727.6 L558.9,729.0 L558.2,730.2 L557.5,731.5 L556.7,732.7 L555.9,733.8 L555.0,734.9 L554.0,735.9 L552.9,736.9 L551.8,737.8 L550.6,738.8 L549.5,739.9 L548.4,741.0 L547.4,742.2 L546.5,743.4 L545.6,744.6 L544.7,745.8 L543.6,746.9 L542.6,747.9 L541.5,748.9 L540.4,749.8 L539.3,750.7 L538.1,751.6 L536.9,752.3 L535.7,753.0 L534.5,753.6 L533.4,754.3 L532.2,755.0 L531.0,755.6 L529.7,756.2 L528.4,756.8 L527.0,757.3 L525.6,757.9 L524.2,758.6 L522.8,759.2 L521.4,759.9 L520.1,760.5 L518.7,761.2 L517.4,761.8 L516.1,762.5 L514.8,763.0 L513.5,763.6 L512.1,764.1 L510.8,764.6 L509.4,765.1 L508.0,765.6 L506.5,766.1 L505.1,766.6 L503.6,767.2 L502.2,767.8 L500.8,768.4 L499.4,769.0 L498.0,769.7 L496.7,770.3 L495.4,770.9 L494.0,771.5 L492.7,772.0 L491.4,772.5 L490.0,773.0 L488.6,773.5 L487.2,773.9 L485.8,774.3 L484.4,774.8 L482.9,775.2 L481.5,775.6 L480.0,776.1 L478.6,776.6 L477.2,777.1 L475.7,777.6 L474.3,778.0 L472.9,778.5 L471.5,778.9 L470.2,779.3 L468.8,779.7 L467.4,780.0 L465.9,780.3 L464.5,780.6 L463.0,780.9 L461.5,781.2 L459.9,781.6 L458.4,782.1 L456.9,782.6 L455.4,783.2 L454.0,783.8 L452.6,784.4 L451.2,785.1 L449.8,785.8 L448.4,786.5 L447.1,787.3 L445.7,788.0 L444.4,788.9 L443.2,789.9 L442.0,790.8 L440.8,791.7 L439.7,792.5 L438.5,793.3 L437.2,794.0 L435.9,794.8 L434.5,795.7 L433.3,796.7 L432.1,797.9 L431.1,799.2 L430.2,800.5 L429.5,801.9 L428.9,803.4 L428.3,804.8 L427.8,806.2 L427.2,807.6 L426.7,809.0 L426.2,810.4 L425.7,811.8 L425.1,813.2 L424.6,814.6 L424.0,816.0 L423.5,817.4 L422.9,818.8 L422.4,820.2 L421.8,821.6 L421.3,823.0 L420.8,824.5 L420.3,825.9 L419.8,827.3 L419.4,828.8 L418.9,830.2 L418.5,831.6 L418.1,833.1 L417.6,834.5 L417.2,836.0 L416.8,837.4 L416.4,838.8 L416.0,840.3 L415.8,840.8Z" fill="#6e9ff9" fill-opacity="0.6"/>
<path d="M417.3,841.2 L417.7,839.8 L418.1,838.3 L418.6,836.9 L419.0,835.5 L419.4,834.0 L419.9,832.6 L420.3,831.2 L420.8,829.7 L421.3,828.3 L421.7,826.9 L422.2,825.5 L422.7,824.1 L423.3,822.7 L423.8,821.3 L424.3,819.9 L424.9,818.5 L425.4,817.1 L426.0,815.7 L426.6,814.3 L427.1,813.0 L427.7,811.6 L428.3,810.2 L428.9,808.8 L429.4,807.4 L430.0,806.1 L430.6,804.7 L431.3,803.3 L431.9,802.0 L432.5,800.6 L433.1,799.3 L433.8,797.9 L434.4,796.5 L435.0,795.2 L435.7,793.8 L436.3,792.5 L437.0,791.1 L437.6,789.8 L438.3,788.5 L439.0,787.1 L439.6,785.8 L440.3,784.5 L441.1,783.2 L441.8,781.9 L442.5,780.6 L443.3,779.3 L444.0,778.0 L444.8,776.7 L445.6,775.5 L446.4,774.2 L447.2,772.9 L448.0,771.7 L448.8,770.5 L449.7,769.2 L450.5,768.0 L451.4,766.9 L452.3,765.7 L453.3,764.6 L454.2,763.4 L455.2,762.3 L456.2,761.2 L457.2,760.2 L458.3,759.1 L459.3,758.0 L460.4,757.0 L461.5,756.0 L462.5,754.9 L463.6,753.9 L464.7,752.9 L465.8,751.9 L466.9,750.9 L468.1,749.9 L469.2,749.0 L470.3,748.0 L471.5,747.0 L472.6,746.0 L473.7,745.0 L474.8,743.9 L475.9,742.9 L477.0,741.9 L478.1,740.9 L479.2,739.9 L480.3,738.9 L481.5,738.0 L482.6,737.0 L483.7,736.0 L484.9,735.1 L486.0,734.1 L487.2,733.2 L488.4,732.2 L489.5,731.3 L490.7,730.4 L491.9,729.4 L493.0,728.5 L494.2,727.6 L495.4,726.8 L496.6,725.9 L497.8,725.1 L499.0,724.4 L500.3,723.7 L501.6,723.0 L502.9,722.3 L504.2,721.6 L505.6,720.9 L506.9,720.3 L508.2,719.6 L509.6,718.9 L510.9,718.3 L512.3,717.6 L513.6,717.0 L515.0,716.3 L516.3,715.7 L517.7,715.1 L519.0,714.4 L520.4,713.8 L521.7,713.2 L523.1,712.5 L524.4,712.0 L525.8,711.4 L527.2,710.8 L528.5,710.2 L529.9,709.7 L531.3,709.2 L532.7,708.7 L534.1,708.1 L535.5,707.6 L536.9,707.1 L538.3,706.7 L539.7,706.2 L541.1,705.8 L542.6,705.3 L544.0,704.8 L545.5,704.3 L546.9,703.7 L548.3,703.1 L549.8,702.4 L551.1,701.7 L552.5,700.9 L553.8,700.1 L555.1,699.3 L556.4,698.4 L557.6,697.6 L558.9,696.7 L560.1,695.8 L561.3,694.9 L562.6,694.1 L563.8,693.2 L565.0,692.2 L566.2,691.3 L567.4,690.4 L568.6,689.4 L569.8,688.4 L570.9,687.4 L572.1,686.4 L573.2,685.3 L574.3,684.3 L575.3,683.2 L576.4,682.0 L577.4,680.9 L578.4,679.8 L579.4,678.7 L580.4,677.5 L581.4,676.4 L582.4,675.3 L583.4,674.1 L584.4,673.0 L585.3,671.8 L586.3,670.7 L587.3,669.6 L588.2,668.4 L589.2,667.3 L590.2,666.2 L591.2,665.2 L592.3,664.1 L593.3,663.1 L594.4,662.1 L595.5,661.1 L596.6,660.2 L597.8,659.2 L598.9,658.3 L600.1,657.4 L601.3,656.6 L602.5,655.7 L603.7,654.9 L604.9,654.0 L606.2,653.2 L607.4,652.4 L608.6,651.6 L609.8,650.8 L610.9,650.2 L610.9,650.2 L609.3,647.6 L608.2,648.3 L607.0,649.1 L605.8,649.9 L604.5,650.7 L603.3,651.5 L602.0,652.4 L600.7,653.2 L599.5,654.1 L598.3,655.0 L597.1,656.0 L595.9,656.9 L594.7,657.9 L593.5,658.9 L592.4,659.9 L591.3,660.9 L590.2,662.0 L589.1,663.1 L588.0,664.1 L586.9,665.2 L585.9,666.3 L584.9,667.5 L583.9,668.6 L582.9,669.7 L581.9,670.8 L580.9,671.9 L579.9,673.0 L578.9,674.1 L577.8,675.2 L576.8,676.3 L575.8,677.4 L574.8,678.5 L573.7,679.5 L572.7,680.6 L571.6,681.6 L570.6,682.6 L569.5,683.6 L568.4,684.6 L567.3,685.5 L566.2,686.5 L565.0,687.4 L563.9,688.3 L562.7,689.2 L561.5,690.1 L560.3,691.0 L559.1,691.9 L557.9,692.7 L556.7,693.6 L555.5,694.4 L554.3,695.3 L553.0,696.1 L551.8,696.9 L550.6,697.6 L549.3,698.3 L548.0,699.0 L546.8,699.6 L545.5,700.2 L544.1,700.7 L542.8,701.2 L541.4,701.7 L540.0,702.1 L538.5,702.6 L537.1,703.1 L535.6,703.6 L534.2,704.1 L532.8,704.6 L531.4,705.1 L529.9,705.7 L528.5,706.2 L527.1,706.8 L525.7,707.4 L524.3,708.0 L523.0,708.6 L521.6,709.3 L520.2,709.9 L518.9,710.6 L517.5,711.2 L516.1,711.9 L514.8,712.6 L513.5,713.2 L512.1,713.9 L510.8,714.6 L509.4,715.3 L508.1,715.9 L506.7,716.6 L505.4,717.3 L504.1,718.0 L502.7,718.7 L501.4,719.4 L500.1,720.1 L498.7,720.9 L497.4,721.7 L496.1,722.5 L494.8,723.4 L493.6,724.3 L492.4,725.2 L491.2,726.1 L490.0,727.1 L488.8,728.0 L487.6,729.0 L486.5,730.0 L485.3,730.9 L484.2,731.9 L483.0,732.9 L481.9,733.9 L480.7,734.8 L479.6,735.8 L478.5,736.8 L477.4,737.9 L476.3,738.9 L475.2,739.9 L474.1,740.9 L473.0,742.0 L471.9,743.0 L470.8,744.0 L469.7,745.0 L468.6,746.0 L467.5,747.0 L466.4,748.1 L465.3,749.1 L464.1,750.1 L463.0,751.1 L461.9,752.1 L460.9,753.2 L459.8,754.3 L458.7,755.3 L457.7,756.4 L456.6,757.5 L455.6,758.6 L454.5,759.7 L453.5,760.8 L452.5,762.0 L451.6,763.2 L450.6,764.3 L449.7,765.6 L448.8,766.8 L447.9,768.0 L447.1,769.3 L446.3,770.6 L445.4,771.8 L444.6,773.1 L443.9,774.4 L443.1,775.7 L442.3,777.0 L441.6,778.3 L440.8,779.6 L440.1,780.9 L439.4,782.3 L438.7,783.6 L438.0,784.9 L437.3,786.3 L436.6,787.6 L436.0,789.0 L435.3,790.3 L434.7,791.7 L434.0,793.1 L433.4,794.4 L432.8,795.8 L432.2,797.2 L431.5,798.5 L430.9,799.9 L430.3,801.3 L429.7,802.6 L429.1,804.0 L428.5,805.4 L427.9,806.8 L427.3,808.2 L426.8,809.6 L426.2,811.0 L425.6,812.4 L425.1,813.7 L424.5,815.1 L424.0,816.5 L423.4,817.9 L422.9,819.3 L422.3,820.8 L421.8,822.2 L421.3,823.6 L420.8,825.0 L420.3,826.4 L419.8,827.9 L419.4,829.3 L418.9,830.7 L418.5,832.2 L418.1,833.6 L417.6,835.0 L417.2,836.5 L416.8,837.9 L416.4,839.4 L415.9,840.8 L415.9,840.8Z" fill="#a31515" fill-opacity="0.75"/>
<path d="M416.6,841 C417.38,838.47 419.57,830.78 421.3,825.8 C423.03,820.82 425.18,815.53 427,811.1 C428.82,806.67 429.98,803.98 432.2,799.21 C434.42,794.45 437.25,788 440.3,782.5 C443.35,777 448.8,768.92 450.5,766.2" fill="none" stroke="#8b0000" stroke-width="1.2" stroke-opacity="0.8"/>
<polyline points="476,785 482.5,778.5 485,772 487.5,767.6" fill="none" stroke="#6e9ff9" stroke-width="1.0"/>
<polyline points="538.4,758.8 543.4,749.4 549.5,741.2 555.7,736.5 559.7,730 562.8,721.9 565.3,710.6 568.9,699.4 573,686" fill="none" stroke="#6e9ff9" stroke-width="1.0"/>
<polyline points="496.3,734.7 500.7,727 503.4,720.5 506.1,715" fill="none" stroke="#a31515" stroke-width="1.0"/>
<polyline points="526.9,708.4 533.5,701.3 536.2,695.8" fill="none" stroke="#a31515" stroke-width="1.0"/>
<polyline points="421,827 424.7,821.3 427,817 430.4,811.1" fill="none" stroke="#a31515" stroke-width="1.0"/>
<polyline points="452.8,769.2 454.7,761.3 456.5,755 458.7,751.1 460.4,743.7" fill="none" stroke="#a31515" stroke-width="1.0"/>
<circle cx="423.3" cy="808.7" r="1.2" fill="#6e9ff9" fill-opacity="0.9"/>
<circle cx="422.9" cy="813.4" r="1.3" fill="#6e9ff9" fill-opacity="0.9"/>
<circle cx="426.9" cy="804.3" r="2" fill="#6e9ff9" fill-opacity="0.9"/>
<circle cx="429.8" cy="798.5" r="1.4" fill="#6e9ff9" fill-opacity="0.9"/>
<circle cx="437.1" cy="792.6" r="2.2" fill="#6e9ff9" fill-opacity="0.9"/>
<circle cx="441.5" cy="787.5" r="2" fill="#6e9ff9" fill-opacity="0.9"/>
<circle cx="420.3" cy="832" r="1.6" fill="#6e9ff9" fill-opacity="0.9"/>
<circle cx="420" cy="837.1" r="1.6" fill="#6e9ff9" fill-opacity="0.9"/>
<circle cx="476" cy="785" r="4.8" fill="#6e9ff9" fill-opacity="0.9"/>
<circle cx="442.8" cy="791.8" r="2" fill="#6e9ff9" fill-opacity="0.9"/>
<circle cx="441.5" cy="794" r="1.6" fill="#6e9ff9" fill-opacity="0.9"/>
<circle cx="437.7" cy="798.6" r="1.6" fill="#6e9ff9" fill-opacity="0.9"/>
<circle cx="428.1" cy="810" r="1.6" fill="#6e9ff9" fill-opacity="0.9"/>
<circle cx="424.5" cy="813.5" r="1" fill="#6e9ff9" fill-opacity="0.9"/>
<circle cx="423.6" cy="818" r="1" fill="#6e9ff9" fill-opacity="0.9"/>
<circle cx="421" cy="833" r="0.9" fill="#6e9ff9" fill-opacity="0.9"/>
<circle cx="494.6" cy="767" r="2.4" fill="#6e9ff9" fill-opacity="0.9"/>
<circle cx="487.5" cy="767.6" r="1.6" fill="#6e9ff9" fill-opacity="0.9"/>
<circle cx="485" cy="772" r="1.3" fill="#6e9ff9" fill-opacity="0.9"/>
<circle cx="482.5" cy="778.5" r="1.3" fill="#6e9ff9" fill-opacity="0.9"/>
<circle cx="538.4" cy="758.8" r="5.5" fill="#6e9ff9" fill-opacity="0.9"/>
<circle cx="544.5" cy="742.4" r="1.2" fill="#6e9ff9" fill-opacity="0.9"/>
<circle cx="543" cy="749" r="1.4" fill="#6e9ff9" fill-opacity="0.9"/>
<circle cx="556.6" cy="737.4" r="2.2" fill="#6e9ff9" fill-opacity="0.9"/>
<circle cx="552" cy="739" r="1.6" fill="#6e9ff9" fill-opacity="0.9"/>
<circle cx="565" cy="712" r="1" fill="#6e9ff9" fill-opacity="0.9"/>
<circle cx="576.8" cy="675" r="1.2" fill="#6e9ff9" fill-opacity="0.9"/>
<circle cx="574" cy="690" r="1" fill="#6e9ff9" fill-opacity="0.9"/>
<circle cx="598" cy="647" r="2" fill="#6e9ff9" fill-opacity="0.9"/>
<circle cx="559.7" cy="730" r="1.2" fill="#6e9ff9" fill-opacity="0.9"/>
<circle cx="562.8" cy="721.9" r="1.2" fill="#6e9ff9" fill-opacity="0.9"/>
<circle cx="565.3" cy="710.6" r="1" fill="#6e9ff9" fill-opacity="0.9"/>
<circle cx="568.9" cy="699.4" r="1" fill="#6e9ff9" fill-opacity="0.9"/>
<circle cx="555.7" cy="737.7" r="1.8" fill="#6e9ff9" fill-opacity="0.9"/>
<circle cx="553" cy="738.5" r="1.6" fill="#6e9ff9" fill-opacity="0.9"/>
<circle cx="549.5" cy="741.2" r="1.8" fill="#6e9ff9" fill-opacity="0.9"/>
<circle cx="543.4" cy="749.4" r="1.2" fill="#6e9ff9" fill-opacity="0.9"/>
<circle cx="424.3" cy="821.1" r="2.2" fill="#a31515" fill-opacity="0.95"/>
<circle cx="426.2" cy="816.7" r="2.2" fill="#a31515" fill-opacity="0.95"/>
<circle cx="428.4" cy="815.2" r="1.8" fill="#a31515" fill-opacity="0.95"/>
<circle cx="430.6" cy="809.4" r="2" fill="#a31515" fill-opacity="0.95"/>
<circle cx="432" cy="794.8" r="2.2" fill="#a31515" fill-opacity="0.95"/>
<circle cx="433.5" cy="791.9" r="2" fill="#a31515" fill-opacity="0.95"/>
<circle cx="421" cy="824" r="1.5" fill="#a31515" fill-opacity="0.95"/>
<circle cx="419.6" cy="828.4" r="1.3" fill="#a31515" fill-opacity="0.95"/>
<circle cx="418" cy="834.5" r="1.2" fill="#a31515" fill-opacity="0.95"/>
<circle cx="431.5" cy="798.5" r="1.6" fill="#a31515" fill-opacity="0.95"/>
<circle cx="433" cy="788.5" r="1.8" fill="#a31515" fill-opacity="0.95"/>
<circle cx="460.4" cy="743.7" r="1.3" fill="#a31515" fill-opacity="0.95"/>
<circle cx="458.7" cy="751.1" r="2.2" fill="#a31515" fill-opacity="0.95"/>
<circle cx="456.5" cy="755" r="1.8" fill="#a31515" fill-opacity="0.95"/>
<circle cx="454.7" cy="761.3" r="1.4" fill="#a31515" fill-opacity="0.95"/>
<circle cx="452.8" cy="769.2" r="2.8" fill="#a31515" fill-opacity="0.95"/>
<circle cx="446.8" cy="775.4" r="2.5" fill="#a31515" fill-opacity="0.95"/>
<circle cx="441.1" cy="777.1" r="2.3" fill="#a31515" fill-opacity="0.95"/>
<circle cx="437.2" cy="785" r="1.4" fill="#a31515" fill-opacity="0.95"/>
<circle cx="436.5" cy="782" r="1" fill="#a31515" fill-opacity="0.95"/>
<circle cx="434.3" cy="794.1" r="1.5" fill="#a31515" fill-opacity="0.95"/>
<circle cx="432.5" cy="798" r="1.5" fill="#a31515" fill-opacity="0.95"/>
<circle cx="430.4" cy="811.1" r="1.6" fill="#a31515" fill-opacity="0.95"/>
<circle cx="427" cy="817" r="1.6" fill="#a31515" fill-opacity="0.95"/>
<circle cx="424.7" cy="821.3" r="1.6" fill="#a31515" fill-opacity="0.95"/>
<circle cx="421" cy="827" r="1.1" fill="#a31515" fill-opacity="0.95"/>
<circle cx="418.5" cy="834" r="0.9" fill="#a31515" fill-opacity="0.95"/>
<circle cx="496.3" cy="734.7" r="6.3" fill="#a31515" fill-opacity="0.95"/>
<circle cx="500.7" cy="727" r="1.6" fill="#a31515" fill-opacity="0.95"/>
<circle cx="503.4" cy="720.5" r="2" fill="#a31515" fill-opacity="0.95"/>
<circle cx="506.1" cy="715" r="2.2" fill="#a31515" fill-opacity="0.95"/>
<circle cx="512.2" cy="713.9" r="2.4" fill="#a31515" fill-opacity="0.95"/>
<circle cx="519.8" cy="712.8" r="2.7" fill="#a31515" fill-opacity="0.95"/>
<circle cx="526.9" cy="708.4" r="2.2" fill="#a31515" fill-opacity="0.95"/>
<circle cx="533.5" cy="701.3" r="1.4" fill="#a31515" fill-opacity="0.95"/>
<circle cx="536.2" cy="695.8" r="1.7" fill="#a31515" fill-opacity="0.95"/>
<circle cx="572.1" cy="692.3" r="6.2" fill="#a31515" fill-opacity="0.95"/>
<circle cx="575.7" cy="680.5" r="1.6" fill="#a31515" fill-opacity="0.95"/>
<circle cx="581" cy="668.5" r="1.9" fill="#a31515" fill-opacity="0.95"/>
<circle cx="588.7" cy="662" r="1.9" fill="#a31515" fill-opacity="0.95"/>
<circle cx="592.3" cy="656" r="2.1" fill="#a31515" fill-opacity="0.95"/>
<circle cx="600.6" cy="654.8" r="3.5" fill="#a31515" fill-opacity="0.95"/>
<circle cx="609.5" cy="648.3" r="2.1" fill="#a31515" fill-opacity="0.95"/>
<rect x="406.5" y="633.8" width="213.0" height="222.2" fill="none" stroke="#595959" stroke-width="1.2"/>
<line x1="402.3" y1="840.5" x2="406.5" y2="840.5" stroke="#333" stroke-width="1.0" />
<text x="402.1" y="843.6" font-size="8.7" fill="#4d4d4d" text-anchor="end" font-weight="normal" >0.00</text>
<line x1="416.5" y1="856" x2="416.5" y2="858.8" stroke="#333" stroke-width="1.0" />
<text x="416.5" y="867" font-size="8.6" fill="#4d4d4d" text-anchor="middle" font-weight="normal" >0.00</text>
<line x1="402.3" y1="792.3" x2="406.5" y2="792.3" stroke="#333" stroke-width="1.0" />
<text x="402.1" y="795.4" font-size="8.7" fill="#4d4d4d" text-anchor="end" font-weight="normal" >0.25</text>
<line x1="464.75" y1="856" x2="464.75" y2="858.8" stroke="#333" stroke-width="1.0" />
<text x="464.75" y="867" font-size="8.6" fill="#4d4d4d" text-anchor="middle" font-weight="normal" >0.25</text>
<line x1="402.3" y1="744.1" x2="406.5" y2="744.1" stroke="#333" stroke-width="1.0" />
<text x="402.1" y="747.2" font-size="8.7" fill="#4d4d4d" text-anchor="end" font-weight="normal" >0.50</text>
<line x1="513" y1="856" x2="513" y2="858.8" stroke="#333" stroke-width="1.0" />
<text x="513" y="867" font-size="8.6" fill="#4d4d4d" text-anchor="middle" font-weight="normal" >0.50</text>
<line x1="402.3" y1="695.9" x2="406.5" y2="695.9" stroke="#333" stroke-width="1.0" />
<text x="402.1" y="699" font-size="8.7" fill="#4d4d4d" text-anchor="end" font-weight="normal" >0.75</text>
<line x1="561.25" y1="856" x2="561.25" y2="858.8" stroke="#333" stroke-width="1.0" />
<text x="561.25" y="867" font-size="8.6" fill="#4d4d4d" text-anchor="middle" font-weight="normal" >0.75</text>
<line x1="402.3" y1="647.7" x2="406.5" y2="647.7" stroke="#333" stroke-width="1.0" />
<text x="402.1" y="650.8" font-size="8.7" fill="#4d4d4d" text-anchor="end" font-weight="normal" >1.00</text>
<line x1="609.5" y1="856" x2="609.5" y2="858.8" stroke="#333" stroke-width="1.0" />
<text x="609.5" y="867" font-size="8.6" fill="#4d4d4d" text-anchor="middle" font-weight="normal" >1.00</text>
<text x="513" y="879.2" font-size="10.3" fill="#000" text-anchor="middle" font-weight="normal" >Cumulative fraction of population ranked by SDI</text>
<text x="381.2" y="744.9" font-size="10.3" fill="#000" text-anchor="middle" transform="rotate(-90 381.2 744.9)">Cumulative fraction of Deaths</text>
<text x="425.1" y="661.2" font-size="10.4" fill="#5f93f2" text-anchor="start" font-weight="normal" >CI 1990:  −0.04(−0.13, 0.04)</text>
<text x="425.1" y="670.8" font-size="10.4" fill="#a51e1e" text-anchor="start" font-weight="normal" >CI 2021:  −0.24(−0.31, −0.17)</text>
<text x="281.2" y="682.1" font-size="10.0" fill="#000" text-anchor="start" font-weight="normal" >year</text>
<rect x="281.5" y="688.2" width="16.3" height="16.3" fill="#eff5ff" />
<rect x="281.5" y="704.5" width="16.3" height="16.3" fill="#fbe4e4" />
<line x1="282.7" y1="696.35" x2="296.5" y2="696.35" stroke="#6e9ff9" stroke-width="1.1" />
<circle cx="289.65" cy="696.35" r="1.8" fill="#6e9ff9" />
<line x1="282.7" y1="712.65" x2="296.5" y2="712.65" stroke="#8b0000" stroke-width="1.1" />
<circle cx="289.65" cy="712.65" r="1.8" fill="#8b0000" />
<text x="303" y="699.7" font-size="8.4" fill="#1a1a1a" text-anchor="start" font-weight="normal" >1990</text>
<text x="303" y="716" font-size="8.4" fill="#1a1a1a" text-anchor="start" font-weight="normal" >2021</text>
<text x="281.2" y="750.1" font-size="10.3" fill="#000" text-anchor="start" font-weight="normal" >Population</text>
<text x="281.2" y="760.7" font-size="10.3" fill="#000" text-anchor="start" font-weight="normal" >(million)</text>
<circle cx="289.2" cy="776" r="3.5" fill="none" stroke="#3a3a3a" stroke-width="0.85"/>
<text x="303" y="779.1" font-size="8.4" fill="#1a1a1a" text-anchor="start" font-weight="normal" >200</text>
<circle cx="289.2" cy="792.2" r="4.9" fill="none" stroke="#3a3a3a" stroke-width="0.85"/>
<text x="303" y="795.3" font-size="8.4" fill="#1a1a1a" text-anchor="start" font-weight="normal" >400</text>
<circle cx="289.2" cy="808.4" r="6" fill="none" stroke="#3a3a3a" stroke-width="0.85"/>
<text x="303" y="811.5" font-size="8.4" fill="#1a1a1a" text-anchor="start" font-weight="normal" >600</text>
<text x="634.7" y="682.1" font-size="10.0" fill="#000" text-anchor="start" font-weight="normal" >year</text>
<rect x="635" y="688.2" width="16.3" height="16.3" fill="#8db7fb" />
<rect x="635" y="704.5" width="16.3" height="16.3" fill="#b44c4c" />
<line x1="636.2" y1="696.35" x2="650" y2="696.35" stroke="#6e9ff9" stroke-width="0.5" />
<circle cx="643.15" cy="696.35" r="1.9" fill="#6e9ff9" />
<line x1="636.2" y1="712.65" x2="650" y2="712.65" stroke="#8b0a0a" stroke-width="0.5" />
<circle cx="643.15" cy="712.65" r="1.9" fill="#8b0000" />
<text x="656.5" y="699.7" font-size="8.4" fill="#1a1a1a" text-anchor="start" font-weight="normal" >1990</text>
<text x="656.5" y="716" font-size="8.4" fill="#1a1a1a" text-anchor="start" font-weight="normal" >2021</text>
<text x="634.7" y="750.1" font-size="10.3" fill="#000" text-anchor="start" font-weight="normal" >Population</text>
<text x="634.7" y="760.7" font-size="10.3" fill="#000" text-anchor="start" font-weight="normal" >(million)</text>
<circle cx="642.7" cy="776" r="3.5" fill="none" stroke="#3a3a3a" stroke-width="0.85"/>
<text x="656.5" y="779.1" font-size="8.4" fill="#1a1a1a" text-anchor="start" font-weight="normal" >200</text>
<circle cx="642.7" cy="792.2" r="4.9" fill="none" stroke="#3a3a3a" stroke-width="0.85"/>
<text x="656.5" y="795.3" font-size="8.4" fill="#1a1a1a" text-anchor="start" font-weight="normal" >400</text>
<circle cx="642.7" cy="808.4" r="6" fill="none" stroke="#3a3a3a" stroke-width="0.85"/>
<text x="656.5" y="811.5" font-size="8.4" fill="#1a1a1a" text-anchor="start" font-weight="normal" >600</text>
</svg></body></html>
